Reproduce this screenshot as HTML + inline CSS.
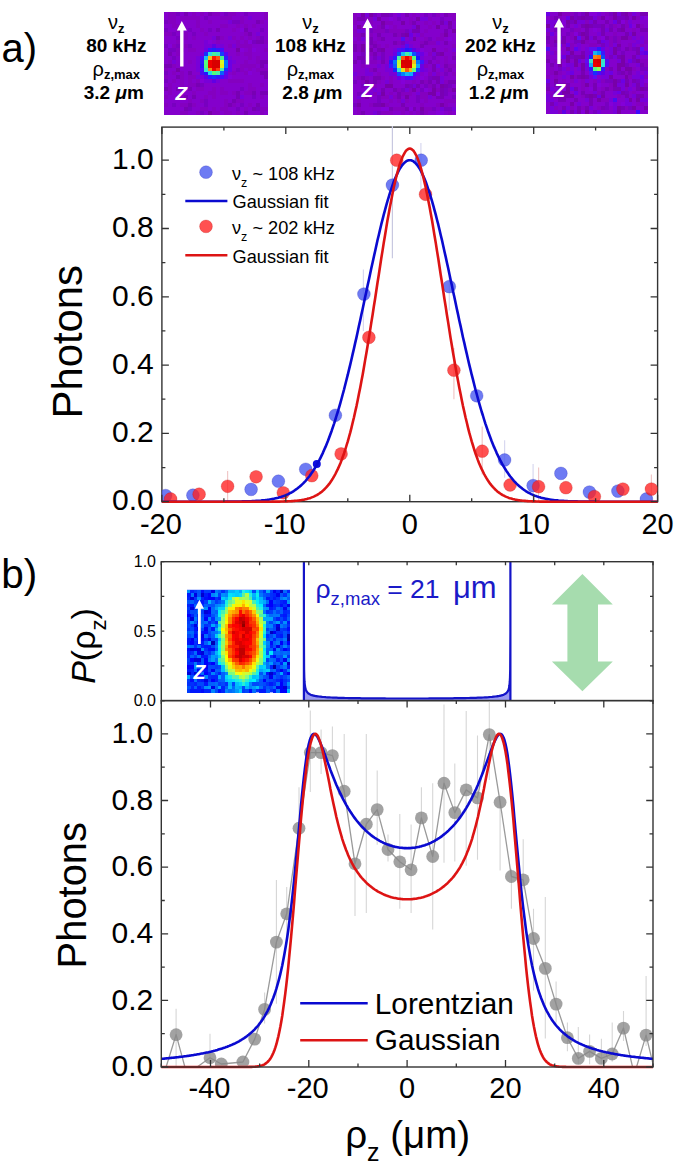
<!DOCTYPE html>
<html><head><meta charset="utf-8"><style>
html,body{margin:0;padding:0;background:#fff;width:675px;height:1163px;overflow:hidden}
svg{display:block}
text{font-family:"Liberation Sans", sans-serif}
</style></head><body>
<svg width="675" height="1163" viewBox="0 0 675 1163">
<defs><clipPath id="clipA"><rect x="161.9" y="127.1" width="495.7" height="374.6"/></clipPath><clipPath id="clipB"><rect x="161.3" y="700.6" width="491.7" height="366.4"/></clipPath></defs>
<rect x="164" y="12" width="104" height="103" fill="#8400cc"/>
<path fill="#8400c0" shape-rendering="crispEdges" d="M168 12h8.1v4h-8.1zM192 12h4v4h-4zM200 12h4v4h-4zM212 12h8.1v4h-8.1zM228 12h8.1v4h-8.1zM264 12h4v4h-4zM168 16h8.1v4h-8.1zM180 16h20.1v4h-20.1zM220 16h12.1v4h-12.1zM240 16h4v4h-4zM264 16h4v4h-4zM168 19.9h8.1v4h-8.1zM196 19.9h4v4h-4zM208 19.9h4v4h-4zM240 19.9h4v4h-4zM260 19.9h4v4h-4zM172 23.9h8.1v4h-8.1zM196 23.9h4v4h-4zM220 23.9h8.1v4h-8.1zM236 23.9h4v4h-4zM244 23.9h4v4h-4zM252 23.9h4v4h-4zM176 27.8h8.1v4h-8.1zM200 27.8h4v4h-4zM232 27.8h4v4h-4zM164 31.8h8.1v4h-8.1zM184 31.8h4v4h-4zM204 31.8h4v4h-4zM244 31.8h4v4h-4zM180 35.8h8.1v4h-8.1zM192 35.8h4v4h-4zM220 35.8h4v4h-4zM232 35.8h4v4h-4zM240 35.8h4v4h-4zM248 35.8h4v4h-4zM256 35.8h4v4h-4zM176 39.7h4v4h-4zM216 39.7h4v4h-4zM236 39.7h4v4h-4zM244 39.7h4v4h-4zM264 39.7h4v4h-4zM172 43.7h4v4h-4zM184 43.7h4v4h-4zM228 43.7h4v4h-4zM236 43.7h16.1v4h-16.1zM176 47.7h4v4h-4zM188 47.7h8.1v4h-8.1zM248 47.7h4v4h-4zM264 47.7h4v4h-4zM176 51.6h4v4h-4zM236 51.6h4v4h-4zM244 51.6h8.1v4h-8.1zM180 55.6h4v4h-4zM248 55.6h4v4h-4zM256 55.6h4v4h-4zM168 59.5h4v4h-4zM188 59.5h4v4h-4zM244 59.5h4v4h-4zM256 59.5h4v4h-4zM172 63.5h4v4h-4zM180 63.5h4v4h-4zM240 63.5h16.1v4h-16.1zM164 67.5h4v4h-4zM240 67.5h4v4h-4zM248 67.5h4v4h-4zM256 67.5h12.1v4h-12.1zM172 71.4h4v4h-4zM180 71.4h4v4h-4zM232 71.4h4v4h-4zM244 71.4h4v4h-4zM164 75.4h4v4h-4zM180 75.4h4v4h-4zM188 75.4h8.1v4h-8.1zM172 79.3h4v4h-4zM180 79.3h4v4h-4zM188 79.3h4v4h-4zM196 79.3h4v4h-4zM228 79.3h16.1v4h-16.1zM168 83.3h4v4h-4zM180 83.3h4v4h-4zM188 83.3h8.1v4h-8.1zM248 83.3h4v4h-4zM260 83.3h4v4h-4zM168 87.3h4v4h-4zM196 87.3h8.1v4h-8.1zM212 87.3h4v4h-4zM220 87.3h4v4h-4zM248 87.3h8.1v4h-8.1zM168 91.2h4v4h-4zM192 91.2h4v4h-4zM208 91.2h8.1v4h-8.1zM220 91.2h8.1v4h-8.1zM232 91.2h4v4h-4zM244 91.2h8.1v4h-8.1zM164 95.2h4v4h-4zM180 95.2h4v4h-4zM204 95.2h4v4h-4zM212 95.2h4v4h-4zM260 95.2h4v4h-4zM188 99.2h4v4h-4zM200 99.2h4v4h-4zM224 99.2h4v4h-4zM236 99.2h8.1v4h-8.1zM164 103.1h4v4h-4zM180 103.1h8.1v4h-8.1zM192 103.1h4v4h-4zM224 103.1h4v4h-4zM232 103.1h4v4h-4zM248 103.1h4v4h-4zM200 107.1h8.1v4h-8.1zM212 107.1h4v4h-4zM220 107.1h8.1v4h-8.1zM244 107.1h4v4h-4zM260 107.1h8.1v4h-8.1zM180 111h8.1v4h-8.1zM196 111h4v4h-4zM212 111h8.1v4h-8.1zM224 111h8.1v4h-8.1zM236 111h4v4h-4zM260 111h4v4h-4z"/>
<path fill="#7800c0" shape-rendering="crispEdges" d="M176 12h4v4h-4zM224 12h4v4h-4zM244 12h4v4h-4zM204 16h4v4h-4zM164 19.9h4v4h-4zM232 19.9h8.1v4h-8.1zM164 27.8h4v4h-4zM188 27.8h4v4h-4zM208 27.8h4v4h-4zM260 27.8h4v4h-4zM172 31.8h4v4h-4zM192 31.8h4v4h-4zM176 35.8h4v4h-4zM260 35.8h4v4h-4zM252 39.7h4v4h-4zM164 43.7h4v4h-4zM176 43.7h4v4h-4zM188 43.7h4v4h-4zM168 47.7h8.1v4h-8.1zM172 55.6h4v4h-4zM236 67.5h4v4h-4zM164 71.4h4v4h-4zM164 79.3h4v4h-4zM200 83.3h4v4h-4zM180 87.3h4v4h-4zM240 87.3h4v4h-4zM176 95.2h4v4h-4zM252 95.2h4v4h-4zM204 99.2h4v4h-4zM172 103.1h4v4h-4zM204 103.1h4v4h-4zM240 103.1h4v4h-4zM188 107.1h4v4h-4zM236 107.1h4v4h-4zM256 107.1h4v4h-4zM200 111h4v4h-4z"/>
<path fill="#7800b4" shape-rendering="crispEdges" d="M184 12h4v4h-4zM208 12h4v4h-4zM256 19.9h4v4h-4zM216 27.8h4v4h-4zM244 27.8h4v4h-4zM248 31.8h4v4h-4zM216 35.8h4v4h-4zM256 39.7h8.1v4h-8.1zM180 47.7h4v4h-4zM168 51.6h4v4h-4zM260 59.5h8.1v4h-8.1zM164 63.5h8.1v4h-8.1zM260 63.5h4v4h-4zM188 71.4h4v4h-4zM260 71.4h8.1v4h-8.1zM176 75.4h4v4h-4zM264 75.4h4v4h-4zM196 83.3h4v4h-4zM164 87.3h4v4h-4zM176 87.3h4v4h-4zM188 87.3h4v4h-4zM236 91.2h4v4h-4zM252 91.2h4v4h-4zM260 91.2h8.1v4h-8.1zM184 95.2h4v4h-4zM192 95.2h4v4h-4zM236 95.2h4v4h-4zM232 99.2h4v4h-4zM188 103.1h4v4h-4zM228 103.1h4v4h-4zM256 103.1h4v4h-4zM184 107.1h4v4h-4zM252 107.1h4v4h-4zM244 111h4v4h-4z"/>
<path fill="#7800d8" shape-rendering="crispEdges" d="M248 16h4v4h-4zM228 19.9h4v4h-4zM256 31.8h4v4h-4zM212 35.8h4v4h-4zM228 35.8h4v4h-4zM204 39.7h4v4h-4zM204 43.7h8.1v4h-8.1zM216 43.7h8.1v4h-8.1zM232 43.7h4v4h-4zM200 51.6h4v4h-4zM196 55.6h4v4h-4zM228 55.6h4v4h-4zM172 59.5h4v4h-4zM196 59.5h4v4h-4zM232 59.5h4v4h-4zM196 63.5h4v4h-4zM196 67.5h4v4h-4zM196 75.4h8.1v4h-8.1zM204 79.3h8.1v4h-8.1zM216 79.3h4v4h-4zM240 95.2h4v4h-4z"/>
<path fill="#8400d8" shape-rendering="crispEdges" d="M240 27.8h4v4h-4zM208 39.7h4v4h-4zM248 39.7h4v4h-4zM168 43.7h4v4h-4zM240 47.7h4v4h-4zM252 47.7h4v4h-4zM248 71.4h4v4h-4zM228 75.4h4v4h-4zM200 79.3h4v4h-4z"/>
<path fill="#6000e4" shape-rendering="crispEdges" d="M212 43.7h4v4h-4zM204 75.4h4v4h-4zM212 79.3h4v4h-4z"/>
<path fill="#6c00e4" shape-rendering="crispEdges" d="M204 47.7h4v4h-4zM228 59.5h4v4h-4zM228 63.5h4v4h-4zM228 67.5h4v4h-4zM224 75.4h4v4h-4z"/>
<path fill="#3018fc" shape-rendering="crispEdges" d="M208 47.7h4v4h-4zM216 47.7h4v4h-4zM224 55.6h4v4h-4zM200 59.5h4v4h-4zM208 75.4h4v4h-4zM216 75.4h4v4h-4z"/>
<path fill="#1824fc" shape-rendering="crispEdges" d="M212 47.7h4v4h-4z"/>
<path fill="#480cfc" shape-rendering="crispEdges" d="M220 47.7h4v4h-4zM200 55.6h4v4h-4zM200 67.5h4v4h-4zM220 75.4h4v4h-4z"/>
<path fill="#7800a8" shape-rendering="crispEdges" d="M236 47.7h4v4h-4zM176 67.5h4v4h-4zM208 111h4v4h-4z"/>
<path fill="#1830fc" shape-rendering="crispEdges" d="M204 51.6h4v4h-4zM224 67.5h4v4h-4zM212 75.4h4v4h-4z"/>
<path fill="#30d8e4" shape-rendering="crispEdges" d="M208 51.6h4v4h-4z"/>
<path fill="#48f09c" shape-rendering="crispEdges" d="M212 51.6h4v4h-4z"/>
<path fill="#3ce4c0" shape-rendering="crispEdges" d="M216 51.6h4v4h-4z"/>
<path fill="#183cfc" shape-rendering="crispEdges" d="M220 51.6h4v4h-4z"/>
<path fill="#6000f0" shape-rendering="crispEdges" d="M224 51.6h4v4h-4z"/>
<path fill="#18c0f0" shape-rendering="crispEdges" d="M204 55.6h4v4h-4z"/>
<path fill="#f0c018" shape-rendering="crispEdges" d="M208 55.6h4v4h-4z"/>
<path fill="#fc1800" shape-rendering="crispEdges" d="M212 55.6h4v4h-4z"/>
<path fill="#fc540c" shape-rendering="crispEdges" d="M216 55.6h4v4h-4z"/>
<path fill="#48f090" shape-rendering="crispEdges" d="M220 55.6h4v4h-4z"/>
<path fill="#54fc84" shape-rendering="crispEdges" d="M204 59.5h4v4h-4z"/>
<path fill="#f00000" shape-rendering="crispEdges" d="M208 59.5h4v4h-4zM208 63.5h4v4h-4zM212 67.5h4v4h-4z"/>
<path fill="#d80000" shape-rendering="crispEdges" d="M212 59.5h8.1v4h-8.1zM212 63.5h8.1v4h-8.1z"/>
<path fill="#d8fc24" shape-rendering="crispEdges" d="M220 59.5h4v4h-4z"/>
<path fill="#0078fc" shape-rendering="crispEdges" d="M224 59.5h4v4h-4zM224 63.5h4v4h-4z"/>
<path fill="#2418fc" shape-rendering="crispEdges" d="M200 63.5h4v4h-4zM204 71.4h4v4h-4z"/>
<path fill="#54fc78" shape-rendering="crispEdges" d="M204 63.5h4v4h-4zM212 71.4h4v4h-4z"/>
<path fill="#e4f018" shape-rendering="crispEdges" d="M220 63.5h4v4h-4z"/>
<path fill="#30e4cc" shape-rendering="crispEdges" d="M204 67.5h4v4h-4z"/>
<path fill="#f09018" shape-rendering="crispEdges" d="M208 67.5h4v4h-4z"/>
<path fill="#fc3c0c" shape-rendering="crispEdges" d="M216 67.5h4v4h-4z"/>
<path fill="#48f0a8" shape-rendering="crispEdges" d="M220 67.5h4v4h-4zM216 71.4h4v4h-4z"/>
<path fill="#480cf0" shape-rendering="crispEdges" d="M200 71.4h4v4h-4z"/>
<path fill="#24d8e4" shape-rendering="crispEdges" d="M208 71.4h4v4h-4z"/>
<path fill="#0c60fc" shape-rendering="crispEdges" d="M220 71.4h4v4h-4z"/>
<path fill="#540cf0" shape-rendering="crispEdges" d="M224 71.4h4v4h-4z"/>
<rect x="353" y="13" width="103" height="102" fill="#8400cc"/>
<path fill="#8400c0" shape-rendering="crispEdges" d="M353 13h4v4h-4zM412.4 13h4v4h-4zM436.2 13h4v4h-4zM448.1 13h8v4h-8zM353 16.9h4v4h-4zM364.9 16.9h8v4h-8zM408.5 16.9h4v4h-4zM428.3 16.9h4v4h-4zM452 16.9h4v4h-4zM353 20.8h4v4h-4zM368.8 20.8h4v4h-4zM384.7 20.8h8v4h-8zM408.5 20.8h4v4h-4zM424.3 20.8h4v4h-4zM432.2 20.8h4v4h-4zM360.9 24.8h4v4h-4zM376.8 24.8h4v4h-4zM392.6 24.8h4v4h-4zM428.3 24.8h4v4h-4zM353 28.7h4v4h-4zM372.8 28.7h11.9v4h-11.9zM388.7 28.7h15.9v4h-15.9zM424.3 28.7h4v4h-4zM353 32.6h8v4h-8zM368.8 32.6h4v4h-4zM396.6 32.6h4v4h-4zM420.3 32.6h4v4h-4zM440.2 32.6h4v4h-4zM357 36.5h4v4h-4zM364.9 36.5h4v4h-4zM376.8 36.5h4v4h-4zM424.3 36.5h4v4h-4zM436.2 36.5h8v4h-8zM353 40.5h4v4h-4zM372.8 40.5h4v4h-4zM396.6 40.5h4v4h-4zM420.3 40.5h4v4h-4zM428.3 40.5h8v4h-8zM357 44.4h4v4h-4zM368.8 44.4h4v4h-4zM376.8 44.4h4v4h-4zM384.7 44.4h4v4h-4zM452 44.4h4v4h-4zM357 48.3h4v4h-4zM444.1 48.3h4v4h-4zM368.8 52.2h4v4h-4zM428.3 52.2h4v4h-4zM452 52.2h4v4h-4zM444.1 56.2h4v4h-4zM368.8 60.1h8v4h-8zM436.2 60.1h4v4h-4zM444.1 60.1h4v4h-4zM360.9 64h4v4h-4zM424.3 64h4v4h-4zM448.1 64h8v4h-8zM368.8 67.9h4v4h-4zM444.1 67.9h4v4h-4zM376.8 71.8h4v4h-4zM428.3 71.8h4v4h-4zM436.2 71.8h4v4h-4zM452 71.8h4v4h-4zM357 75.8h4v4h-4zM364.9 75.8h4v4h-4zM380.7 75.8h4v4h-4zM388.7 75.8h4v4h-4zM360.9 79.7h4v4h-4zM368.8 79.7h4v4h-4zM376.8 79.7h4v4h-4zM388.7 79.7h4v4h-4zM412.4 79.7h4v4h-4zM424.3 79.7h4v4h-4zM444.1 79.7h4v4h-4zM368.8 83.6h8v4h-8zM428.3 83.6h4v4h-4zM396.6 87.5h4v4h-4zM408.5 87.5h4v4h-4zM436.2 87.5h4v4h-4zM448.1 87.5h4v4h-4zM372.8 91.5h4v4h-4zM388.7 91.5h4v4h-4zM400.5 91.5h11.9v4h-11.9zM420.3 91.5h8v4h-8zM360.9 95.4h4v4h-4zM380.7 95.4h8v4h-8zM392.6 95.4h4v4h-4zM420.3 95.4h8v4h-8zM357 99.3h4v4h-4zM388.7 99.3h4v4h-4zM396.6 99.3h4v4h-4zM404.5 99.3h4v4h-4zM424.3 99.3h4v4h-4zM444.1 99.3h11.9v4h-11.9zM368.8 103.2h4v4h-4zM384.7 103.2h4v4h-4zM420.3 103.2h4v4h-4zM436.2 103.2h4v4h-4zM444.1 103.2h4v4h-4zM357 107.2h4v4h-4zM392.6 107.2h11.9v4h-11.9zM424.3 107.2h8v4h-8zM357 111.1h4v4h-4zM380.7 111.1h11.9v4h-11.9zM400.5 111.1h4v4h-4zM408.5 111.1h4v4h-4zM416.4 111.1h4v4h-4zM424.3 111.1h4v4h-4zM448.1 111.1h4v4h-4z"/>
<path fill="#7800a8" shape-rendering="crispEdges" d="M360.9 13h4v4h-4zM368.8 13h4v4h-4zM376.8 16.9h4v4h-4zM416.4 16.9h4v4h-4zM380.7 20.8h4v4h-4zM400.5 20.8h4v4h-4zM448.1 20.8h4v4h-4zM357 24.8h4v4h-4zM416.4 24.8h4v4h-4zM436.2 24.8h4v4h-4zM452 28.7h4v4h-4zM404.5 32.6h4v4h-4zM444.1 32.6h4v4h-4zM412.4 36.5h4v4h-4zM360.9 44.4h4v4h-4zM360.9 48.3h4v4h-4zM368.8 48.3h4v4h-4zM380.7 48.3h4v4h-4zM432.2 48.3h4v4h-4zM440.2 52.2h4v4h-4zM364.9 79.7h4v4h-4zM384.7 83.6h8v4h-8zM440.2 83.6h4v4h-4zM412.4 87.5h4v4h-4zM432.2 87.5h4v4h-4zM452 87.5h4v4h-4zM380.7 91.5h4v4h-4zM428.3 91.5h8v4h-8zM364.9 95.4h4v4h-4zM404.5 95.4h4v4h-4zM357 103.2h4v4h-4zM380.7 103.2h4v4h-4zM440.2 103.2h4v4h-4zM420.3 107.2h4v4h-4z"/>
<path fill="#7800d8" shape-rendering="crispEdges" d="M364.9 13h4v4h-4zM396.6 13h4v4h-4zM372.8 16.9h4v4h-4zM420.3 16.9h8v4h-8zM444.1 20.8h4v4h-4zM412.4 24.8h4v4h-4zM357 28.7h8v4h-8zM408.5 28.7h4v4h-4zM416.4 32.6h4v4h-4zM360.9 36.5h4v4h-4zM408.5 36.5h4v4h-4zM404.5 40.5h4v4h-4zM436.2 40.5h4v4h-4zM400.5 44.4h4v4h-4zM408.5 44.4h4v4h-4zM364.9 48.3h4v4h-4zM392.6 48.3h4v4h-4zM416.4 48.3h4v4h-4zM452 48.3h4v4h-4zM432.2 52.2h4v4h-4zM376.8 56.2h4v4h-4zM420.3 56.2h4v4h-4zM424.3 60.1h4v4h-4zM376.8 64h4v4h-4zM384.7 64h4v4h-4zM364.9 67.9h4v4h-4zM384.7 67.9h8v4h-8zM424.3 67.9h4v4h-4zM440.2 67.9h4v4h-4zM353 71.8h4v4h-4zM364.9 71.8h8v4h-8zM388.7 71.8h8v4h-8zM432.2 71.8h4v4h-4zM416.4 75.8h4v4h-4zM440.2 75.8h4v4h-4zM384.7 79.7h4v4h-4zM440.2 79.7h4v4h-4zM412.4 83.6h4v4h-4zM372.8 87.5h4v4h-4zM404.5 87.5h4v4h-4zM368.8 91.5h4v4h-4zM376.8 91.5h4v4h-4zM416.4 91.5h4v4h-4zM357 95.4h4v4h-4zM388.7 95.4h4v4h-4zM428.3 95.4h4v4h-4zM400.5 99.3h4v4h-4zM440.2 107.2h4v4h-4zM452 107.2h4v4h-4zM372.8 111.1h4v4h-4z"/>
<path fill="#7800c0" shape-rendering="crispEdges" d="M372.8 13h4v4h-4zM388.7 13h4v4h-4zM424.3 13h4v4h-4zM432.2 13h4v4h-4zM396.6 16.9h4v4h-4zM440.2 16.9h4v4h-4zM368.8 28.7h4v4h-4zM384.7 28.7h4v4h-4zM404.5 28.7h4v4h-4zM428.3 36.5h4v4h-4zM400.5 40.5h4v4h-4zM360.9 52.2h8v4h-8zM380.7 52.2h4v4h-4zM372.8 56.2h4v4h-4zM380.7 56.2h4v4h-4zM432.2 56.2h4v4h-4zM360.9 60.1h4v4h-4zM444.1 71.8h4v4h-4zM428.3 75.8h4v4h-4zM353 79.7h4v4h-4zM360.9 83.6h4v4h-4zM408.5 83.6h4v4h-4zM424.3 83.6h4v4h-4zM448.1 83.6h4v4h-4zM400.5 87.5h4v4h-4zM420.3 87.5h4v4h-4zM444.1 87.5h4v4h-4zM357 91.5h8v4h-8zM444.1 91.5h4v4h-4zM376.8 95.4h4v4h-4zM416.4 95.4h4v4h-4zM452 95.4h4v4h-4zM376.8 99.3h4v4h-4zM416.4 99.3h4v4h-4zM353 103.2h4v4h-4zM432.2 107.2h4v4h-4zM444.1 107.2h8v4h-8zM376.8 111.1h4v4h-4z"/>
<path fill="#7800b4" shape-rendering="crispEdges" d="M380.7 13h8v4h-8zM404.5 13h4v4h-4zM444.1 13h4v4h-4zM357 16.9h8v4h-8zM412.4 20.8h4v4h-4zM440.2 20.8h4v4h-4zM380.7 24.8h4v4h-4zM448.1 24.8h4v4h-4zM412.4 28.7h8v4h-8zM444.1 28.7h4v4h-4zM360.9 32.6h4v4h-4zM376.8 32.6h4v4h-4zM392.6 32.6h4v4h-4zM400.5 32.6h4v4h-4zM368.8 36.5h4v4h-4zM380.7 36.5h4v4h-4zM368.8 40.5h4v4h-4zM392.6 40.5h4v4h-4zM424.3 40.5h4v4h-4zM444.1 40.5h4v4h-4zM353 44.4h4v4h-4zM372.8 44.4h4v4h-4zM420.3 44.4h4v4h-4zM353 48.3h4v4h-4zM376.8 48.3h4v4h-4zM372.8 52.2h4v4h-4zM436.2 52.2h4v4h-4zM357 56.2h8v4h-8zM452 56.2h4v4h-4zM353 60.1h4v4h-4zM364.9 60.1h4v4h-4zM380.7 60.1h4v4h-4zM428.3 60.1h4v4h-4zM432.2 64h4v4h-4zM444.1 64h4v4h-4zM372.8 67.9h4v4h-4zM432.2 67.9h4v4h-4zM448.1 67.9h4v4h-4zM360.9 75.8h4v4h-4zM372.8 75.8h8v4h-8zM432.2 75.8h8v4h-8zM372.8 79.7h4v4h-4zM420.3 79.7h4v4h-4zM428.3 79.7h4v4h-4zM436.2 79.7h4v4h-4zM448.1 79.7h8v4h-8zM404.5 83.6h4v4h-4zM416.4 83.6h4v4h-4zM432.2 83.6h4v4h-4zM444.1 83.6h4v4h-4zM380.7 87.5h4v4h-4zM392.6 87.5h4v4h-4zM440.2 87.5h4v4h-4zM396.6 91.5h4v4h-4zM440.2 91.5h4v4h-4zM396.6 95.4h4v4h-4zM436.2 95.4h8v4h-8zM372.8 103.2h8v4h-8zM400.5 103.2h4v4h-4zM388.7 107.2h4v4h-4zM404.5 107.2h4v4h-4zM412.4 107.2h4v4h-4zM360.9 111.1h4v4h-4zM420.3 111.1h4v4h-4z"/>
<path fill="#8400d8" shape-rendering="crispEdges" d="M388.7 16.9h4v4h-4zM364.9 20.8h4v4h-4zM384.7 24.8h4v4h-4zM448.1 36.5h4v4h-4zM420.3 48.3h4v4h-4zM424.3 52.2h4v4h-4zM424.3 71.8h4v4h-4zM420.3 75.8h4v4h-4zM400.5 79.7h4v4h-4zM424.3 87.5h4v4h-4zM436.2 91.5h4v4h-4zM380.7 107.2h8v4h-8zM408.5 107.2h4v4h-4zM436.2 111.1h8v4h-8z"/>
<path fill="#6c00e4" shape-rendering="crispEdges" d="M408.5 32.6h4v4h-4zM392.6 52.2h4v4h-4zM420.3 52.2h4v4h-4zM388.7 56.2h4v4h-4zM420.3 64h4v4h-4zM420.3 67.9h4v4h-4zM416.4 71.8h4v4h-4zM396.6 75.8h4v4h-4zM412.4 75.8h4v4h-4z"/>
<path fill="#540cf0" shape-rendering="crispEdges" d="M400.5 36.5h4v4h-4zM404.5 44.4h4v4h-4zM396.6 48.3h4v4h-4z"/>
<path fill="#480cfc" shape-rendering="crispEdges" d="M400.5 48.3h4v4h-4zM412.4 71.8h4v4h-4zM404.5 75.8h8v4h-8z"/>
<path fill="#2418fc" shape-rendering="crispEdges" d="M404.5 48.3h4v4h-4zM388.7 60.1h4v4h-4z"/>
<path fill="#3018fc" shape-rendering="crispEdges" d="M408.5 48.3h4v4h-4zM392.6 56.2h4v4h-4z"/>
<path fill="#6000e4" shape-rendering="crispEdges" d="M412.4 48.3h4v4h-4z"/>
<path fill="#183cfc" shape-rendering="crispEdges" d="M396.6 52.2h4v4h-4zM416.4 67.9h4v4h-4z"/>
<path fill="#18c0f0" shape-rendering="crispEdges" d="M400.5 52.2h4v4h-4z"/>
<path fill="#48f0a8" shape-rendering="crispEdges" d="M404.5 52.2h4v4h-4zM396.6 56.2h4v4h-4z"/>
<path fill="#24d8f0" shape-rendering="crispEdges" d="M408.5 52.2h4v4h-4z"/>
<path fill="#0c54fc" shape-rendering="crispEdges" d="M412.4 52.2h4v4h-4z"/>
<path fill="#3c18fc" shape-rendering="crispEdges" d="M416.4 52.2h4v4h-4zM420.3 60.1h4v4h-4zM388.7 64h4v4h-4z"/>
<path fill="#fc540c" shape-rendering="crispEdges" d="M400.5 56.2h4v4h-4zM404.5 67.9h4v4h-4z"/>
<path fill="#f00000" shape-rendering="crispEdges" d="M404.5 56.2h4v4h-4z"/>
<path fill="#fc300c" shape-rendering="crispEdges" d="M408.5 56.2h4v4h-4z"/>
<path fill="#54fc78" shape-rendering="crispEdges" d="M412.4 56.2h4v4h-4z"/>
<path fill="#1818fc" shape-rendering="crispEdges" d="M416.4 56.2h4v4h-4z"/>
<path fill="#0078fc" shape-rendering="crispEdges" d="M392.6 60.1h4v4h-4zM416.4 60.1h4v4h-4z"/>
<path fill="#c0fc30" shape-rendering="crispEdges" d="M396.6 60.1h4v4h-4z"/>
<path fill="#d80000" shape-rendering="crispEdges" d="M400.5 60.1h11.9v4h-11.9zM404.5 64h8v4h-8z"/>
<path fill="#f0c018" shape-rendering="crispEdges" d="M412.4 60.1h4v4h-4z"/>
<path fill="#0c60fc" shape-rendering="crispEdges" d="M392.6 64h4v4h-4z"/>
<path fill="#ccfc30" shape-rendering="crispEdges" d="M396.6 64h4v4h-4z"/>
<path fill="#e40000" shape-rendering="crispEdges" d="M400.5 64h4v4h-4z"/>
<path fill="#e4f018" shape-rendering="crispEdges" d="M412.4 64h4v4h-4z"/>
<path fill="#0ca8f0" shape-rendering="crispEdges" d="M416.4 64h4v4h-4z"/>
<path fill="#7800e4" shape-rendering="crispEdges" d="M436.2 64h4v4h-4z"/>
<path fill="#1824fc" shape-rendering="crispEdges" d="M392.6 67.9h4v4h-4z"/>
<path fill="#30e4d8" shape-rendering="crispEdges" d="M396.6 67.9h4v4h-4z"/>
<path fill="#e4e418" shape-rendering="crispEdges" d="M400.5 67.9h4v4h-4z"/>
<path fill="#f0b418" shape-rendering="crispEdges" d="M408.5 67.9h4v4h-4z"/>
<path fill="#60fc78" shape-rendering="crispEdges" d="M412.4 67.9h4v4h-4z"/>
<path fill="#1848fc" shape-rendering="crispEdges" d="M396.6 71.8h4v4h-4z"/>
<path fill="#0084fc" shape-rendering="crispEdges" d="M400.5 71.8h4v4h-4z"/>
<path fill="#18b4f0" shape-rendering="crispEdges" d="M404.5 71.8h4v4h-4z"/>
<path fill="#0ca8fc" shape-rendering="crispEdges" d="M408.5 71.8h4v4h-4z"/>
<path fill="#600cf0" shape-rendering="crispEdges" d="M400.5 75.8h4v4h-4z"/>
<rect x="546" y="12" width="102" height="102" fill="#8400cc"/>
<path fill="#6c00e4" shape-rendering="crispEdges" d="M546 12h4v4h-4zM565.6 15.9h4v4h-4zM612.7 19.8h4v4h-4zM628.4 23.8h4v4h-4zM549.9 31.6h4v4h-4zM600.9 39.5h4v4h-4zM557.8 43.4h4v4h-4zM565.6 43.4h4v4h-4zM600.9 47.3h4v4h-4zM589.2 51.2h4v4h-4zM640.2 51.2h4v4h-4zM561.7 55.2h4v4h-4zM577.4 59.1h4v4h-4zM628.4 59.1h4v4h-4zM585.2 63h4v4h-4zM569.5 70.8h4v4h-4zM608.8 70.8h4v4h-4zM640.2 74.8h4v4h-4zM546 78.7h4v4h-4zM620.5 78.7h4v4h-4zM569.5 86.5h4v4h-4zM573.5 90.5h4v4h-4zM616.6 90.5h4v4h-4zM597 94.4h4v4h-4z"/>
<path fill="#7800a8" shape-rendering="crispEdges" d="M557.8 12h4v4h-4zM585.2 12h4v4h-4zM612.7 12h4v4h-4zM624.5 12h4v4h-4zM569.5 15.9h4v4h-4zM581.3 15.9h4v4h-4zM600.9 15.9h4v4h-4zM612.7 15.9h4v4h-4zM632.3 15.9h4v4h-4zM565.6 19.8h4v4h-4zM573.5 19.8h4v4h-4zM546 23.8h4v4h-4zM553.8 23.8h4v4h-4zM585.2 23.8h4v4h-4zM636.2 23.8h4v4h-4zM620.5 27.7h4v4h-4zM581.3 31.6h4v4h-4zM632.3 31.6h4v4h-4zM573.5 35.5h4v4h-4zM585.2 35.5h4v4h-4zM620.5 35.5h7.9v4h-7.9zM553.8 39.5h4v4h-4zM581.3 39.5h4v4h-4zM616.6 43.4h4v4h-4zM565.6 47.3h4v4h-4zM612.7 47.3h4v4h-4zM569.5 51.2h4v4h-4zM612.7 51.2h4v4h-4zM565.6 55.2h4v4h-4zM581.3 55.2h4v4h-4zM620.5 55.2h4v4h-4zM557.8 59.1h4v4h-4zM565.6 59.1h4v4h-4zM573.5 59.1h4v4h-4zM620.5 59.1h4v4h-4zM636.2 59.1h4v4h-4zM557.8 63h4v4h-4zM573.5 63h4v4h-4zM581.3 63h4v4h-4zM616.6 63h7.9v4h-7.9zM581.3 66.9h4v4h-4zM616.6 66.9h4v4h-4zM624.5 66.9h7.9v4h-7.9zM553.8 70.8h4v4h-4zM569.5 74.8h4v4h-4zM581.3 74.8h4v4h-4zM608.8 74.8h4v4h-4zM624.5 74.8h4v4h-4zM553.8 78.7h4v4h-4zM612.7 78.7h4v4h-4zM585.2 82.6h4v4h-4zM612.7 82.6h4v4h-4zM624.5 82.6h4v4h-4zM565.6 86.5h4v4h-4zM640.2 86.5h4v4h-4zM561.7 90.5h7.9v4h-7.9zM557.8 94.4h4v4h-4zM569.5 94.4h4v4h-4zM589.2 94.4h4v4h-4zM600.9 94.4h4v4h-4zM597 98.3h4v4h-4zM628.4 98.3h4v4h-4zM636.2 98.3h4v4h-4zM569.5 102.2h4v4h-4zM616.6 106.2h4v4h-4zM632.3 106.2h4v4h-4zM644.1 106.2h4v4h-4zM585.2 110.1h4v4h-4zM616.6 110.1h4v4h-4z"/>
<path fill="#8400c0" shape-rendering="crispEdges" d="M561.7 12h11.8v4h-11.8zM604.8 12h4v4h-4zM628.4 12h4v4h-4zM549.9 15.9h4v4h-4zM557.8 15.9h4v4h-4zM597 15.9h4v4h-4zM608.8 15.9h4v4h-4zM636.2 15.9h4v4h-4zM585.2 19.8h4v4h-4zM624.5 19.8h4v4h-4zM612.7 23.8h4v4h-4zM624.5 23.8h4v4h-4zM640.2 23.8h4v4h-4zM573.5 27.7h7.9v4h-7.9zM632.3 27.7h4v4h-4zM546 31.6h4v4h-4zM569.5 31.6h4v4h-4zM612.7 31.6h4v4h-4zM553.8 35.5h4v4h-4zM569.5 35.5h4v4h-4zM581.3 35.5h4v4h-4zM608.8 35.5h4v4h-4zM616.6 35.5h4v4h-4zM628.4 35.5h4v4h-4zM549.9 39.5h4v4h-4zM585.2 39.5h4v4h-4zM608.8 39.5h4v4h-4zM616.6 39.5h4v4h-4zM644.1 39.5h4v4h-4zM549.9 43.4h4v4h-4zM561.7 43.4h4v4h-4zM569.5 43.4h4v4h-4zM589.2 43.4h7.9v4h-7.9zM608.8 43.4h4v4h-4zM628.4 43.4h4v4h-4zM640.2 43.4h4v4h-4zM557.8 47.3h4v4h-4zM569.5 47.3h4v4h-4zM628.4 47.3h4v4h-4zM553.8 51.2h4v4h-4zM546 55.2h4v4h-4zM553.8 59.1h4v4h-4zM640.2 59.1h7.9v4h-7.9zM644.1 63h4v4h-4zM549.9 66.9h4v4h-4zM565.6 66.9h4v4h-4zM604.8 66.9h4v4h-4zM632.3 66.9h4v4h-4zM549.9 70.8h4v4h-4zM557.8 70.8h4v4h-4zM624.5 70.8h4v4h-4zM546 74.8h4v4h-4zM553.8 74.8h4v4h-4zM573.5 74.8h4v4h-4zM628.4 74.8h4v4h-4zM644.1 74.8h4v4h-4zM561.7 78.7h4v4h-4zM569.5 78.7h4v4h-4zM581.3 78.7h4v4h-4zM593.1 78.7h4v4h-4zM600.9 78.7h4v4h-4zM581.3 82.6h4v4h-4zM608.8 82.6h4v4h-4zM644.1 82.6h4v4h-4zM581.3 86.5h4v4h-4zM600.9 86.5h4v4h-4zM608.8 86.5h4v4h-4zM624.5 86.5h4v4h-4zM597 90.5h4v4h-4zM632.3 90.5h4v4h-4zM549.9 94.4h4v4h-4zM581.3 94.4h4v4h-4zM616.6 94.4h4v4h-4zM600.9 98.3h7.9v4h-7.9zM636.2 102.2h7.9v4h-7.9zM553.8 106.2h4v4h-4zM569.5 106.2h4v4h-4zM581.3 106.2h4v4h-4zM597 106.2h4v4h-4zM624.5 106.2h4v4h-4zM557.8 110.1h4v4h-4z"/>
<path fill="#7800c0" shape-rendering="crispEdges" d="M573.5 12h4v4h-4zM581.3 12h4v4h-4zM608.8 12h4v4h-4zM573.5 15.9h4v4h-4zM616.6 15.9h7.9v4h-7.9zM569.5 19.8h4v4h-4zM593.1 23.8h7.9v4h-7.9zM608.8 23.8h4v4h-4zM553.8 27.7h4v4h-4zM569.5 27.7h4v4h-4zM557.8 31.6h4v4h-4zM565.6 31.6h4v4h-4zM577.4 31.6h4v4h-4zM612.7 35.5h4v4h-4zM546 39.5h4v4h-4zM573.5 39.5h7.9v4h-7.9zM612.7 39.5h4v4h-4zM553.8 43.4h4v4h-4zM600.9 43.4h4v4h-4zM616.6 47.3h4v4h-4zM632.3 47.3h4v4h-4zM620.5 51.2h4v4h-4zM569.5 55.2h4v4h-4zM608.8 55.2h4v4h-4zM632.3 59.1h4v4h-4zM624.5 63h4v4h-4zM557.8 66.9h4v4h-4zM640.2 66.9h7.9v4h-7.9zM616.6 70.8h4v4h-4zM604.8 78.7h7.9v4h-7.9zM616.6 78.7h4v4h-4zM636.2 78.7h4v4h-4zM546 82.6h4v4h-4zM624.5 90.5h4v4h-4zM604.8 102.2h4v4h-4zM604.8 106.2h4v4h-4zM628.4 106.2h4v4h-4zM593.1 110.1h4v4h-4z"/>
<path fill="#8400d8" shape-rendering="crispEdges" d="M589.2 12h7.9v4h-7.9zM644.1 15.9h4v4h-4zM561.7 19.8h4v4h-4zM620.5 19.8h4v4h-4zM632.3 23.8h4v4h-4zM593.1 27.7h4v4h-4zM573.5 31.6h4v4h-4zM600.9 35.5h4v4h-4zM557.8 51.2h4v4h-4zM561.7 63h4v4h-4zM644.1 78.7h4v4h-4zM597 82.6h4v4h-4zM561.7 86.5h4v4h-4zM589.2 86.5h4v4h-4zM608.8 102.2h4v4h-4zM620.5 102.2h4v4h-4zM581.3 110.1h4v4h-4z"/>
<path fill="#7800d8" shape-rendering="crispEdges" d="M597 12h4v4h-4zM616.6 12h4v4h-4zM632.3 12h4v4h-4zM593.1 15.9h4v4h-4zM640.2 15.9h4v4h-4zM546 19.8h11.8v4h-11.8zM577.4 19.8h7.9v4h-7.9zM589.2 19.8h4v4h-4zM628.4 19.8h4v4h-4zM549.9 23.8h4v4h-4zM573.5 23.8h4v4h-4zM546 27.7h4v4h-4zM604.8 27.7h4v4h-4zM597 31.6h4v4h-4zM628.4 31.6h4v4h-4zM557.8 35.5h4v4h-4zM589.2 35.5h4v4h-4zM632.3 35.5h4v4h-4zM640.2 35.5h4v4h-4zM604.8 39.5h4v4h-4zM636.2 39.5h7.9v4h-7.9zM577.4 43.4h4v4h-4zM604.8 43.4h4v4h-4zM612.7 43.4h4v4h-4zM632.3 43.4h4v4h-4zM577.4 47.3h4v4h-4zM585.2 47.3h4v4h-4zM608.8 47.3h4v4h-4zM549.9 51.2h4v4h-4zM565.6 51.2h4v4h-4zM585.2 51.2h4v4h-4zM608.8 51.2h4v4h-4zM557.8 55.2h4v4h-4zM585.2 55.2h4v4h-4zM612.7 55.2h4v4h-4zM636.2 55.2h4v4h-4zM616.6 59.1h4v4h-4zM565.6 63h7.9v4h-7.9zM636.2 63h4v4h-4zM561.7 66.9h4v4h-4zM569.5 66.9h4v4h-4zM577.4 66.9h4v4h-4zM585.2 66.9h4v4h-4zM565.6 70.8h4v4h-4zM604.8 70.8h4v4h-4zM636.2 70.8h4v4h-4zM644.1 70.8h4v4h-4zM561.7 74.8h4v4h-4zM589.2 74.8h4v4h-4zM600.9 74.8h7.9v4h-7.9zM632.3 74.8h7.9v4h-7.9zM573.5 78.7h4v4h-4zM585.2 78.7h4v4h-4zM597 78.7h4v4h-4zM640.2 78.7h4v4h-4zM616.6 82.6h7.9v4h-7.9zM632.3 82.6h4v4h-4zM640.2 82.6h4v4h-4zM549.9 86.5h4v4h-4zM620.5 86.5h4v4h-4zM628.4 86.5h4v4h-4zM557.8 90.5h4v4h-4zM593.1 90.5h4v4h-4zM612.7 90.5h4v4h-4zM546 94.4h4v4h-4zM632.3 94.4h4v4h-4zM546 98.3h7.9v4h-7.9zM585.2 98.3h4v4h-4zM608.8 98.3h4v4h-4zM624.5 98.3h4v4h-4zM640.2 98.3h7.9v4h-7.9zM553.8 102.2h4v4h-4zM577.4 102.2h4v4h-4zM612.7 102.2h4v4h-4zM624.5 102.2h7.9v4h-7.9zM549.9 106.2h4v4h-4zM565.6 106.2h4v4h-4zM589.2 106.2h4v4h-4zM612.7 106.2h4v4h-4zM549.9 110.1h7.9v4h-7.9zM573.5 110.1h4v4h-4zM597 110.1h4v4h-4zM612.7 110.1h4v4h-4z"/>
<path fill="#7800b4" shape-rendering="crispEdges" d="M620.5 12h4v4h-4zM640.2 12h7.9v4h-7.9zM553.8 15.9h4v4h-4zM577.4 15.9h4v4h-4zM585.2 15.9h7.9v4h-7.9zM624.5 15.9h4v4h-4zM557.8 19.8h4v4h-4zM593.1 19.8h4v4h-4zM604.8 19.8h4v4h-4zM616.6 19.8h4v4h-4zM565.6 23.8h4v4h-4zM581.3 23.8h4v4h-4zM589.2 23.8h4v4h-4zM600.9 23.8h4v4h-4zM620.5 23.8h4v4h-4zM557.8 27.7h4v4h-4zM585.2 27.7h4v4h-4zM600.9 27.7h4v4h-4zM608.8 27.7h4v4h-4zM616.6 27.7h4v4h-4zM640.2 27.7h7.9v4h-7.9zM585.2 31.6h4v4h-4zM600.9 31.6h4v4h-4zM624.5 31.6h4v4h-4zM546 35.5h4v4h-4zM561.7 35.5h4v4h-4zM593.1 35.5h4v4h-4zM604.8 35.5h4v4h-4zM557.8 39.5h7.9v4h-7.9zM597 39.5h4v4h-4zM624.5 47.3h4v4h-4zM636.2 47.3h4v4h-4zM581.3 51.2h4v4h-4zM636.2 51.2h4v4h-4zM573.5 55.2h7.9v4h-7.9zM616.6 55.2h4v4h-4zM632.3 55.2h4v4h-4zM546 59.1h4v4h-4zM549.9 63h4v4h-4zM640.2 63h4v4h-4zM608.8 66.9h4v4h-4zM581.3 70.8h4v4h-4zM620.5 70.8h4v4h-4zM628.4 70.8h4v4h-4zM577.4 74.8h4v4h-4zM585.2 74.8h4v4h-4zM624.5 78.7h4v4h-4zM632.3 78.7h4v4h-4zM553.8 82.6h15.7v4h-15.7zM593.1 82.6h4v4h-4zM636.2 82.6h4v4h-4zM546 86.5h4v4h-4zM557.8 86.5h4v4h-4zM573.5 86.5h4v4h-4zM593.1 86.5h4v4h-4zM604.8 86.5h4v4h-4zM612.7 86.5h7.9v4h-7.9zM636.2 86.5h4v4h-4zM644.1 86.5h4v4h-4zM553.8 90.5h4v4h-4zM581.3 90.5h4v4h-4zM600.9 90.5h4v4h-4zM620.5 90.5h4v4h-4zM553.8 94.4h4v4h-4zM561.7 94.4h7.9v4h-7.9zM585.2 94.4h4v4h-4zM593.1 94.4h4v4h-4zM624.5 94.4h4v4h-4zM636.2 94.4h7.9v4h-7.9zM557.8 98.3h7.9v4h-7.9zM573.5 98.3h4v4h-4zM589.2 98.3h4v4h-4zM549.9 102.2h4v4h-4zM589.2 102.2h4v4h-4zM561.7 106.2h4v4h-4zM577.4 106.2h4v4h-4zM585.2 106.2h4v4h-4zM600.9 106.2h4v4h-4zM620.5 106.2h4v4h-4zM569.5 110.1h4v4h-4zM577.4 110.1h4v4h-4z"/>
<path fill="#600cf0" shape-rendering="crispEdges" d="M577.4 35.5h4v4h-4zM589.2 47.3h7.9v4h-7.9zM640.2 47.3h4v4h-4zM585.2 59.1h4v4h-4zM589.2 70.8h4v4h-4zM593.1 74.8h4v4h-4z"/>
<path fill="#540cf0" shape-rendering="crispEdges" d="M546 47.3h4v4h-4zM604.8 59.1h4v4h-4zM604.8 63h4v4h-4z"/>
<path fill="#6000f0" shape-rendering="crispEdges" d="M573.5 47.3h4v4h-4z"/>
<path fill="#3018fc" shape-rendering="crispEdges" d="M597 47.3h4v4h-4zM589.2 66.9h4v4h-4zM600.9 66.9h4v4h-4z"/>
<path fill="#18b4f0" shape-rendering="crispEdges" d="M593.1 51.2h4v4h-4z"/>
<path fill="#0090fc" shape-rendering="crispEdges" d="M597 51.2h4v4h-4z"/>
<path fill="#3c18fc" shape-rendering="crispEdges" d="M600.9 51.2h4v4h-4z"/>
<path fill="#6000e4" shape-rendering="crispEdges" d="M644.1 51.2h4v4h-4zM600.9 70.8h4v4h-4zM561.7 110.1h4v4h-4z"/>
<path fill="#1824fc" shape-rendering="crispEdges" d="M589.2 55.2h4v4h-4z"/>
<path fill="#f08418" shape-rendering="crispEdges" d="M593.1 55.2h4v4h-4z"/>
<path fill="#fc6c0c" shape-rendering="crispEdges" d="M597 55.2h4v4h-4z"/>
<path fill="#0c48fc" shape-rendering="crispEdges" d="M600.9 55.2h4v4h-4z"/>
<path fill="#3ce4c0" shape-rendering="crispEdges" d="M589.2 59.1h4v4h-4zM600.9 59.1h4v4h-4z"/>
<path fill="#e40000" shape-rendering="crispEdges" d="M593.1 59.1h4v4h-4zM597 63h4v4h-4z"/>
<path fill="#d80000" shape-rendering="crispEdges" d="M597 59.1h4v4h-4z"/>
<path fill="#18a8f0" shape-rendering="crispEdges" d="M589.2 63h4v4h-4z"/>
<path fill="#f00000" shape-rendering="crispEdges" d="M593.1 63h4v4h-4z"/>
<path fill="#30e4d8" shape-rendering="crispEdges" d="M600.9 63h4v4h-4z"/>
<path fill="#54fc84" shape-rendering="crispEdges" d="M593.1 66.9h4v4h-4z"/>
<path fill="#90fc54" shape-rendering="crispEdges" d="M597 66.9h4v4h-4z"/>
<path fill="#1830fc" shape-rendering="crispEdges" d="M593.1 70.8h4v4h-4z"/>
<path fill="#480cfc" shape-rendering="crispEdges" d="M597 70.8h4v4h-4z"/>
<path fill="#480cf0" shape-rendering="crispEdges" d="M612.7 98.3h4v4h-4z"/>
<path fill="#3c0cfc" shape-rendering="crispEdges" d="M636.2 110.1h4v4h-4z"/>
<path fill="#fff" d="M181.8 21L186.8 30.5L183.5 30.5L183.5 66.5L180.1 66.5L180.1 30.5L176.8 30.5z"/>
<text x="175.5" y="99.8" font-family='"Liberation Sans", sans-serif' font-weight="bold" font-style="italic" font-size="19" fill="#fff">Z</text>
<path fill="#fff" d="M367.5 18.5L372.5 28L369.2 28L369.2 64.5L365.8 64.5L365.8 28L362.5 28z"/>
<text x="361.5" y="97.3" font-family='"Liberation Sans", sans-serif' font-weight="bold" font-style="italic" font-size="19" fill="#fff">Z</text>
<path fill="#fff" d="M559 18L564 27.5L560.7 27.5L560.7 64L557.3 64L557.3 27.5L554 27.5z"/>
<text x="553.5" y="97.3" font-family='"Liberation Sans", sans-serif' font-weight="bold" font-style="italic" font-size="19" fill="#fff">Z</text>
<text x="1.5" y="62" font-size="40" text-anchor="start" font-weight="normal" font-style="normal" fill="#000">a)</text>
<text x="1.2" y="587.5" font-size="40.5" text-anchor="start" font-weight="normal" font-style="normal" fill="#000">b)</text>
<text x="116.3" y="29" font-size="19" text-anchor="middle" font-weight="bold" font-style="normal" fill="#000"><tspan font-weight="normal" font-size="20">ν</tspan><tspan font-size="13" dy="3.5">z</tspan></text>
<text x="116.3" y="51.8" font-size="19" text-anchor="middle" font-weight="bold" font-style="normal" fill="#000">80 kHz</text>
<text x="116.3" y="75.8" font-size="19" text-anchor="middle" font-weight="bold" font-style="normal" fill="#000"><tspan font-weight="normal" font-size="20">ρ</tspan><tspan font-size="13" dy="3">z,max</tspan></text>
<text x="113.8" y="99" font-size="19" text-anchor="middle" font-weight="bold" font-style="normal" fill="#000">3.2 <tspan font-style="italic">μ</tspan>m</text>
<text x="310.4" y="29" font-size="19" text-anchor="middle" font-weight="bold" font-style="normal" fill="#000"><tspan font-weight="normal" font-size="20">ν</tspan><tspan font-size="13" dy="3.5">z</tspan></text>
<text x="310.4" y="51.8" font-size="19" text-anchor="middle" font-weight="bold" font-style="normal" fill="#000">108 kHz</text>
<text x="310.4" y="75.8" font-size="19" text-anchor="middle" font-weight="bold" font-style="normal" fill="#000"><tspan font-weight="normal" font-size="20">ρ</tspan><tspan font-size="13" dy="3">z,max</tspan></text>
<text x="312.4" y="99" font-size="19" text-anchor="middle" font-weight="bold" font-style="normal" fill="#000">2.8 <tspan font-style="italic">μ</tspan>m</text>
<text x="500.4" y="29" font-size="19" text-anchor="middle" font-weight="bold" font-style="normal" fill="#000"><tspan font-weight="normal" font-size="20">ν</tspan><tspan font-size="13" dy="3.5">z</tspan></text>
<text x="500.4" y="51.8" font-size="19" text-anchor="middle" font-weight="bold" font-style="normal" fill="#000">202 kHz</text>
<text x="500.4" y="75.8" font-size="19" text-anchor="middle" font-weight="bold" font-style="normal" fill="#000"><tspan font-weight="normal" font-size="20">ρ</tspan><tspan font-size="13" dy="3">z,max</tspan></text>
<text x="498.9" y="99" font-size="19" text-anchor="middle" font-weight="bold" font-style="normal" fill="#000">1.2 <tspan font-style="italic">μ</tspan>m</text>
<rect x="161.9" y="127.1" width="495.7" height="374.6" fill="none" stroke="#333" stroke-width="1.4"/>
<line x1="392.4" y1="126" x2="392.4" y2="258.2" stroke="#c8c8e0" stroke-width="1.2"/>
<line x1="420.9" y1="143.1" x2="420.9" y2="194.3" stroke="#d8d8f0" stroke-width="1.2"/>
<line x1="453.9" y1="348" x2="453.9" y2="399.2" stroke="#f0c8c8" stroke-width="1.2"/>
<line x1="449.3" y1="276.3" x2="449.3" y2="310.5" stroke="#d8d8f0" stroke-width="1.2"/>
<line x1="363.4" y1="269.5" x2="363.4" y2="330.9" stroke="#d8d8f0" stroke-width="1.2"/>
<line x1="504.6" y1="440.2" x2="504.6" y2="477.8" stroke="#d8d8f0" stroke-width="1.2"/>
<line x1="533.1" y1="464.1" x2="533.1" y2="501.7" stroke="#d8d8f0" stroke-width="1.2"/>
<line x1="538.6" y1="467.6" x2="538.6" y2="501.7" stroke="#f0c8c8" stroke-width="1.2"/>
<line x1="651.4" y1="474.4" x2="651.4" y2="501.7" stroke="#f0c8c8" stroke-width="1.2"/>
<line x1="482.2" y1="426.6" x2="482.2" y2="474.4" stroke="#f0c8c8" stroke-width="1.2"/>
<line x1="227.6" y1="471" x2="227.6" y2="501.7" stroke="#f0c8c8" stroke-width="1.2"/>
<g clip-path="url(#clipA)"><circle cx="165.6" cy="495.6" r="6.4" fill="#4a5af0" fill-opacity="0.8" stroke="#2020b0" stroke-opacity="0.35" stroke-width="0.7"/><circle cx="192.9" cy="495.2" r="6.4" fill="#4a5af0" fill-opacity="0.8" stroke="#2020b0" stroke-opacity="0.35" stroke-width="0.7"/><circle cx="251.1" cy="489.4" r="6.4" fill="#4a5af0" fill-opacity="0.8" stroke="#2020b0" stroke-opacity="0.35" stroke-width="0.7"/><circle cx="278.4" cy="481.2" r="6.4" fill="#4a5af0" fill-opacity="0.8" stroke="#2020b0" stroke-opacity="0.35" stroke-width="0.7"/><circle cx="305.7" cy="469.3" r="6.4" fill="#4a5af0" fill-opacity="0.8" stroke="#2020b0" stroke-opacity="0.35" stroke-width="0.7"/><circle cx="335.4" cy="415.3" r="6.4" fill="#4a5af0" fill-opacity="0.8" stroke="#2020b0" stroke-opacity="0.35" stroke-width="0.7"/><circle cx="363.9" cy="294.1" r="6.4" fill="#4a5af0" fill-opacity="0.8" stroke="#2020b0" stroke-opacity="0.35" stroke-width="0.7"/><circle cx="392.4" cy="185.1" r="6.4" fill="#4a5af0" fill-opacity="0.8" stroke="#2020b0" stroke-opacity="0.35" stroke-width="0.7"/><circle cx="421.2" cy="160.2" r="6.4" fill="#4a5af0" fill-opacity="0.8" stroke="#2020b0" stroke-opacity="0.35" stroke-width="0.7"/><circle cx="449.3" cy="286.6" r="6.4" fill="#4a5af0" fill-opacity="0.8" stroke="#2020b0" stroke-opacity="0.35" stroke-width="0.7"/><circle cx="476.7" cy="395.8" r="6.4" fill="#4a5af0" fill-opacity="0.8" stroke="#2020b0" stroke-opacity="0.35" stroke-width="0.7"/><circle cx="504.6" cy="460" r="6.4" fill="#4a5af0" fill-opacity="0.8" stroke="#2020b0" stroke-opacity="0.35" stroke-width="0.7"/><circle cx="533.1" cy="485.6" r="6.4" fill="#4a5af0" fill-opacity="0.8" stroke="#2020b0" stroke-opacity="0.35" stroke-width="0.7"/><circle cx="560.9" cy="473.4" r="6.4" fill="#4a5af0" fill-opacity="0.8" stroke="#2020b0" stroke-opacity="0.35" stroke-width="0.7"/><circle cx="589.4" cy="492.1" r="6.4" fill="#4a5af0" fill-opacity="0.8" stroke="#2020b0" stroke-opacity="0.35" stroke-width="0.7"/><circle cx="617.9" cy="491.1" r="6.4" fill="#4a5af0" fill-opacity="0.8" stroke="#2020b0" stroke-opacity="0.35" stroke-width="0.7"/><circle cx="646.4" cy="499" r="6.4" fill="#4a5af0" fill-opacity="0.8" stroke="#2020b0" stroke-opacity="0.35" stroke-width="0.7"/><circle cx="170.6" cy="499" r="6.4" fill="#ff2020" fill-opacity="0.78" stroke="#b01010" stroke-opacity="0.35" stroke-width="0.7"/><circle cx="199.1" cy="494.2" r="6.4" fill="#ff2020" fill-opacity="0.78" stroke="#b01010" stroke-opacity="0.35" stroke-width="0.7"/><circle cx="227.6" cy="486.3" r="6.4" fill="#ff2020" fill-opacity="0.78" stroke="#b01010" stroke-opacity="0.35" stroke-width="0.7"/><circle cx="256.1" cy="476.8" r="6.4" fill="#ff2020" fill-opacity="0.78" stroke="#b01010" stroke-opacity="0.35" stroke-width="0.7"/><circle cx="283.3" cy="492.8" r="6.4" fill="#ff2020" fill-opacity="0.78" stroke="#b01010" stroke-opacity="0.35" stroke-width="0.7"/><circle cx="311.8" cy="475.7" r="6.4" fill="#ff2020" fill-opacity="0.78" stroke="#b01010" stroke-opacity="0.35" stroke-width="0.7"/><circle cx="341.1" cy="453.9" r="6.4" fill="#ff2020" fill-opacity="0.78" stroke="#b01010" stroke-opacity="0.35" stroke-width="0.7"/><circle cx="368.9" cy="337.4" r="6.4" fill="#ff2020" fill-opacity="0.78" stroke="#b01010" stroke-opacity="0.35" stroke-width="0.7"/><circle cx="396.7" cy="160.2" r="6.4" fill="#ff2020" fill-opacity="0.78" stroke="#b01010" stroke-opacity="0.35" stroke-width="0.7"/><circle cx="425.5" cy="194.3" r="6.4" fill="#ff2020" fill-opacity="0.78" stroke="#b01010" stroke-opacity="0.35" stroke-width="0.7"/><circle cx="453.9" cy="370.2" r="6.4" fill="#ff2020" fill-opacity="0.78" stroke="#b01010" stroke-opacity="0.35" stroke-width="0.7"/><circle cx="482.2" cy="451.2" r="6.4" fill="#ff2020" fill-opacity="0.78" stroke="#b01010" stroke-opacity="0.35" stroke-width="0.7"/><circle cx="510.1" cy="485" r="6.4" fill="#ff2020" fill-opacity="0.78" stroke="#b01010" stroke-opacity="0.35" stroke-width="0.7"/><circle cx="538.6" cy="486.7" r="6.4" fill="#ff2020" fill-opacity="0.78" stroke="#b01010" stroke-opacity="0.35" stroke-width="0.7"/><circle cx="565.9" cy="487.7" r="6.4" fill="#ff2020" fill-opacity="0.78" stroke="#b01010" stroke-opacity="0.35" stroke-width="0.7"/><circle cx="594.4" cy="496.6" r="6.4" fill="#ff2020" fill-opacity="0.78" stroke="#b01010" stroke-opacity="0.35" stroke-width="0.7"/><circle cx="622.9" cy="489.1" r="6.4" fill="#ff2020" fill-opacity="0.78" stroke="#b01010" stroke-opacity="0.35" stroke-width="0.7"/><circle cx="651.4" cy="489.1" r="6.4" fill="#ff2020" fill-opacity="0.78" stroke="#b01010" stroke-opacity="0.35" stroke-width="0.7"/></g>
<circle cx="316.8" cy="464.1" r="4" fill="#1010e0"/>
<path d="M161.9 501.7 L163.1 501.7 L164.4 501.7 L165.6 501.7 L166.9 501.7 L168.1 501.7 L169.3 501.7 L170.6 501.7 L171.8 501.7 L173.1 501.7 L174.3 501.7 L175.5 501.7 L176.8 501.7 L178 501.7 L179.2 501.7 L180.5 501.7 L181.7 501.7 L183 501.7 L184.2 501.7 L185.4 501.7 L186.7 501.7 L187.9 501.7 L189.2 501.7 L190.4 501.7 L191.6 501.7 L192.9 501.7 L194.1 501.7 L195.4 501.7 L196.6 501.7 L197.8 501.7 L199.1 501.7 L200.3 501.7 L201.6 501.7 L202.8 501.7 L204 501.7 L205.3 501.7 L206.5 501.7 L207.8 501.7 L209 501.7 L210.2 501.7 L211.5 501.7 L212.7 501.7 L213.9 501.7 L215.2 501.7 L216.4 501.7 L217.7 501.7 L218.9 501.7 L220.1 501.7 L221.4 501.7 L222.6 501.7 L223.9 501.7 L225.1 501.6 L226.3 501.6 L227.6 501.6 L228.8 501.6 L230.1 501.6 L231.3 501.6 L232.5 501.6 L233.8 501.6 L235 501.6 L236.3 501.6 L237.5 501.5 L238.7 501.5 L240 501.5 L241.2 501.5 L242.5 501.4 L243.7 501.4 L244.9 501.4 L246.2 501.4 L247.4 501.3 L248.6 501.3 L249.9 501.2 L251.1 501.2 L252.4 501.1 L253.6 501.1 L254.8 501 L256.1 500.9 L257.3 500.8 L258.6 500.8 L259.8 500.7 L261 500.6 L262.3 500.4 L263.5 500.3 L264.8 500.2 L266 500 L267.2 499.9 L268.5 499.7 L269.7 499.5 L271 499.3 L272.2 499.1 L273.4 498.9 L274.7 498.6 L275.9 498.3 L277.2 498 L278.4 497.7 L279.6 497.3 L280.9 497 L282.1 496.6 L283.3 496.1 L284.6 495.7 L285.8 495.2 L287.1 494.6 L288.3 494.1 L289.5 493.4 L290.8 492.8 L292 492.1 L293.3 491.3 L294.5 490.5 L295.7 489.7 L297 488.8 L298.2 487.8 L299.5 486.8 L300.7 485.7 L301.9 484.6 L303.2 483.4 L304.4 482.1 L305.7 480.8 L306.9 479.3 L308.1 477.8 L309.4 476.2 L310.6 474.6 L311.8 472.8 L313.1 470.9 L314.3 469 L315.6 466.9 L316.8 464.8 L318 462.6 L319.3 460.2 L320.5 457.8 L321.8 455.2 L323 452.6 L324.2 449.8 L325.5 446.9 L326.7 443.9 L328 440.8 L329.2 437.5 L330.4 434.2 L331.7 430.7 L332.9 427.1 L334.2 423.3 L335.4 419.5 L336.6 415.5 L337.9 411.5 L339.1 407.3 L340.4 402.9 L341.6 398.5 L342.8 394 L344.1 389.3 L345.3 384.5 L346.5 379.7 L347.8 374.7 L349 369.6 L350.3 364.4 L351.5 359.2 L352.7 353.9 L354 348.4 L355.2 342.9 L356.5 337.4 L357.7 331.8 L358.9 326.1 L360.2 320.4 L361.4 314.6 L362.7 308.8 L363.9 303 L365.1 297.2 L366.4 291.4 L367.6 285.5 L368.9 279.7 L370.1 274 L371.3 268.2 L372.6 262.5 L373.8 256.9 L375.1 251.3 L376.3 245.8 L377.5 240.3 L378.8 235 L380 229.8 L381.2 224.7 L382.5 219.7 L383.7 214.9 L385 210.2 L386.2 205.7 L387.4 201.3 L388.7 197.1 L389.9 193.1 L391.2 189.3 L392.4 185.7 L393.6 182.3 L394.9 179.1 L396.1 176.2 L397.4 173.4 L398.6 171 L399.8 168.7 L401.1 166.8 L402.3 165 L403.6 163.6 L404.8 162.4 L406 161.4 L407.3 160.7 L408.5 160.3 L409.8 160.2 L411 160.3 L412.2 160.7 L413.5 161.4 L414.7 162.4 L415.9 163.6 L417.2 165 L418.4 166.8 L419.7 168.7 L420.9 171 L422.1 173.4 L423.4 176.2 L424.6 179.1 L425.9 182.3 L427.1 185.7 L428.3 189.3 L429.6 193.1 L430.8 197.1 L432.1 201.3 L433.3 205.7 L434.5 210.2 L435.8 214.9 L437 219.7 L438.3 224.7 L439.5 229.8 L440.7 235 L442 240.3 L443.2 245.8 L444.4 251.3 L445.7 256.9 L446.9 262.5 L448.2 268.2 L449.4 274 L450.6 279.7 L451.9 285.5 L453.1 291.4 L454.4 297.2 L455.6 303 L456.8 308.8 L458.1 314.6 L459.3 320.4 L460.6 326.1 L461.8 331.8 L463 337.4 L464.3 342.9 L465.5 348.4 L466.8 353.9 L468 359.2 L469.2 364.4 L470.5 369.6 L471.7 374.7 L473 379.7 L474.2 384.5 L475.4 389.3 L476.7 394 L477.9 398.5 L479.1 402.9 L480.4 407.3 L481.6 411.5 L482.9 415.5 L484.1 419.5 L485.3 423.3 L486.6 427.1 L487.8 430.7 L489.1 434.2 L490.3 437.5 L491.5 440.8 L492.8 443.9 L494 446.9 L495.3 449.8 L496.5 452.6 L497.7 455.2 L499 457.8 L500.2 460.2 L501.5 462.6 L502.7 464.8 L503.9 466.9 L505.2 469 L506.4 470.9 L507.7 472.8 L508.9 474.6 L510.1 476.2 L511.4 477.8 L512.6 479.3 L513.8 480.8 L515.1 482.1 L516.3 483.4 L517.6 484.6 L518.8 485.7 L520 486.8 L521.3 487.8 L522.5 488.8 L523.8 489.7 L525 490.5 L526.2 491.3 L527.5 492.1 L528.7 492.8 L530 493.4 L531.2 494.1 L532.4 494.6 L533.7 495.2 L534.9 495.7 L536.2 496.1 L537.4 496.6 L538.6 497 L539.9 497.3 L541.1 497.7 L542.3 498 L543.6 498.3 L544.8 498.6 L546.1 498.9 L547.3 499.1 L548.5 499.3 L549.8 499.5 L551 499.7 L552.3 499.9 L553.5 500 L554.7 500.2 L556 500.3 L557.2 500.4 L558.5 500.6 L559.7 500.7 L560.9 500.8 L562.2 500.8 L563.4 500.9 L564.7 501 L565.9 501.1 L567.1 501.1 L568.4 501.2 L569.6 501.2 L570.9 501.3 L572.1 501.3 L573.3 501.4 L574.6 501.4 L575.8 501.4 L577 501.4 L578.3 501.5 L579.5 501.5 L580.8 501.5 L582 501.5 L583.2 501.6 L584.5 501.6 L585.7 501.6 L587 501.6 L588.2 501.6 L589.4 501.6 L590.7 501.6 L591.9 501.6 L593.2 501.6 L594.4 501.6 L595.6 501.7 L596.9 501.7 L598.1 501.7 L599.4 501.7 L600.6 501.7 L601.8 501.7 L603.1 501.7 L604.3 501.7 L605.6 501.7 L606.8 501.7 L608 501.7 L609.3 501.7 L610.5 501.7 L611.7 501.7 L613 501.7 L614.2 501.7 L615.5 501.7 L616.7 501.7 L617.9 501.7 L619.2 501.7 L620.4 501.7 L621.7 501.7 L622.9 501.7 L624.1 501.7 L625.4 501.7 L626.6 501.7 L627.9 501.7 L629.1 501.7 L630.3 501.7 L631.6 501.7 L632.8 501.7 L634.1 501.7 L635.3 501.7 L636.5 501.7 L637.8 501.7 L639 501.7 L640.3 501.7 L641.5 501.7 L642.7 501.7 L644 501.7 L645.2 501.7 L646.4 501.7 L647.7 501.7 L648.9 501.7 L650.2 501.7 L651.4 501.7 L652.6 501.7 L653.9 501.7 L655.1 501.7 L656.4 501.7 L657.6 501.7" fill="none" stroke="#0a0ad0" stroke-width="2.6" stroke-linejoin="round"/>
<path d="M161.9 501.7 L163.1 501.7 L164.4 501.7 L165.6 501.7 L166.9 501.7 L168.1 501.7 L169.3 501.7 L170.6 501.7 L171.8 501.7 L173.1 501.7 L174.3 501.7 L175.5 501.7 L176.8 501.7 L178 501.7 L179.2 501.7 L180.5 501.7 L181.7 501.7 L183 501.7 L184.2 501.7 L185.4 501.7 L186.7 501.7 L187.9 501.7 L189.2 501.7 L190.4 501.7 L191.6 501.7 L192.9 501.7 L194.1 501.7 L195.4 501.7 L196.6 501.7 L197.8 501.7 L199.1 501.7 L200.3 501.7 L201.6 501.7 L202.8 501.7 L204 501.7 L205.3 501.7 L206.5 501.7 L207.8 501.7 L209 501.7 L210.2 501.7 L211.5 501.7 L212.7 501.7 L213.9 501.7 L215.2 501.7 L216.4 501.7 L217.7 501.7 L218.9 501.7 L220.1 501.7 L221.4 501.7 L222.6 501.7 L223.9 501.7 L225.1 501.7 L226.3 501.7 L227.6 501.7 L228.8 501.7 L230.1 501.7 L231.3 501.7 L232.5 501.7 L233.8 501.7 L235 501.7 L236.3 501.7 L237.5 501.7 L238.7 501.7 L240 501.7 L241.2 501.7 L242.5 501.7 L243.7 501.7 L244.9 501.7 L246.2 501.7 L247.4 501.7 L248.6 501.7 L249.9 501.7 L251.1 501.7 L252.4 501.7 L253.6 501.7 L254.8 501.7 L256.1 501.7 L257.3 501.7 L258.6 501.7 L259.8 501.7 L261 501.7 L262.3 501.7 L263.5 501.7 L264.8 501.7 L266 501.7 L267.2 501.7 L268.5 501.7 L269.7 501.7 L271 501.7 L272.2 501.6 L273.4 501.6 L274.7 501.6 L275.9 501.6 L277.2 501.6 L278.4 501.6 L279.6 501.6 L280.9 501.5 L282.1 501.5 L283.3 501.5 L284.6 501.4 L285.8 501.4 L287.1 501.4 L288.3 501.3 L289.5 501.2 L290.8 501.2 L292 501.1 L293.3 501 L294.5 500.9 L295.7 500.8 L297 500.7 L298.2 500.5 L299.5 500.4 L300.7 500.2 L301.9 500 L303.2 499.8 L304.4 499.6 L305.7 499.3 L306.9 499 L308.1 498.6 L309.4 498.3 L310.6 497.9 L311.8 497.4 L313.1 496.9 L314.3 496.4 L315.6 495.7 L316.8 495.1 L318 494.3 L319.3 493.5 L320.5 492.6 L321.8 491.7 L323 490.6 L324.2 489.5 L325.5 488.2 L326.7 486.9 L328 485.4 L329.2 483.9 L330.4 482.2 L331.7 480.3 L332.9 478.4 L334.2 476.2 L335.4 474 L336.6 471.5 L337.9 468.9 L339.1 466.2 L340.4 463.2 L341.6 460.1 L342.8 456.7 L344.1 453.2 L345.3 449.5 L346.5 445.5 L347.8 441.4 L349 437 L350.3 432.4 L351.5 427.6 L352.7 422.5 L354 417.3 L355.2 411.8 L356.5 406.1 L357.7 400.2 L358.9 394 L360.2 387.7 L361.4 381.2 L362.7 374.4 L363.9 367.5 L365.1 360.4 L366.4 353.1 L367.6 345.7 L368.9 338.1 L370.1 330.4 L371.3 322.6 L372.6 314.8 L373.8 306.8 L375.1 298.8 L376.3 290.7 L377.5 282.7 L378.8 274.7 L380 266.7 L381.2 258.7 L382.5 250.9 L383.7 243.1 L385 235.5 L386.2 228.1 L387.4 220.8 L388.7 213.8 L389.9 207 L391.2 200.5 L392.4 194.3 L393.6 188.3 L394.9 182.8 L396.1 177.5 L397.4 172.7 L398.6 168.2 L399.8 164.2 L401.1 160.6 L402.3 157.5 L403.6 154.8 L404.8 152.6 L406 150.8 L407.3 149.6 L408.5 148.8 L409.8 148.6 L411 148.8 L412.2 149.6 L413.5 150.8 L414.7 152.6 L415.9 154.8 L417.2 157.5 L418.4 160.6 L419.7 164.2 L420.9 168.2 L422.1 172.7 L423.4 177.5 L424.6 182.8 L425.9 188.3 L427.1 194.3 L428.3 200.5 L429.6 207 L430.8 213.8 L432.1 220.8 L433.3 228.1 L434.5 235.5 L435.8 243.1 L437 250.9 L438.3 258.7 L439.5 266.7 L440.7 274.7 L442 282.7 L443.2 290.7 L444.4 298.8 L445.7 306.8 L446.9 314.8 L448.2 322.6 L449.4 330.4 L450.6 338.1 L451.9 345.7 L453.1 353.1 L454.4 360.4 L455.6 367.5 L456.8 374.4 L458.1 381.2 L459.3 387.7 L460.6 394 L461.8 400.2 L463 406.1 L464.3 411.8 L465.5 417.3 L466.8 422.5 L468 427.6 L469.2 432.4 L470.5 437 L471.7 441.4 L473 445.5 L474.2 449.5 L475.4 453.2 L476.7 456.7 L477.9 460.1 L479.1 463.2 L480.4 466.2 L481.6 468.9 L482.9 471.5 L484.1 474 L485.3 476.2 L486.6 478.4 L487.8 480.3 L489.1 482.2 L490.3 483.9 L491.5 485.4 L492.8 486.9 L494 488.2 L495.3 489.5 L496.5 490.6 L497.7 491.7 L499 492.6 L500.2 493.5 L501.5 494.3 L502.7 495.1 L503.9 495.7 L505.2 496.4 L506.4 496.9 L507.7 497.4 L508.9 497.9 L510.1 498.3 L511.4 498.6 L512.6 499 L513.8 499.3 L515.1 499.6 L516.3 499.8 L517.6 500 L518.8 500.2 L520 500.4 L521.3 500.5 L522.5 500.7 L523.8 500.8 L525 500.9 L526.2 501 L527.5 501.1 L528.7 501.2 L530 501.2 L531.2 501.3 L532.4 501.4 L533.7 501.4 L534.9 501.4 L536.2 501.5 L537.4 501.5 L538.6 501.5 L539.9 501.6 L541.1 501.6 L542.3 501.6 L543.6 501.6 L544.8 501.6 L546.1 501.6 L547.3 501.6 L548.5 501.7 L549.8 501.7 L551 501.7 L552.3 501.7 L553.5 501.7 L554.7 501.7 L556 501.7 L557.2 501.7 L558.5 501.7 L559.7 501.7 L560.9 501.7 L562.2 501.7 L563.4 501.7 L564.7 501.7 L565.9 501.7 L567.1 501.7 L568.4 501.7 L569.6 501.7 L570.9 501.7 L572.1 501.7 L573.3 501.7 L574.6 501.7 L575.8 501.7 L577 501.7 L578.3 501.7 L579.5 501.7 L580.8 501.7 L582 501.7 L583.2 501.7 L584.5 501.7 L585.7 501.7 L587 501.7 L588.2 501.7 L589.4 501.7 L590.7 501.7 L591.9 501.7 L593.2 501.7 L594.4 501.7 L595.6 501.7 L596.9 501.7 L598.1 501.7 L599.4 501.7 L600.6 501.7 L601.8 501.7 L603.1 501.7 L604.3 501.7 L605.6 501.7 L606.8 501.7 L608 501.7 L609.3 501.7 L610.5 501.7 L611.7 501.7 L613 501.7 L614.2 501.7 L615.5 501.7 L616.7 501.7 L617.9 501.7 L619.2 501.7 L620.4 501.7 L621.7 501.7 L622.9 501.7 L624.1 501.7 L625.4 501.7 L626.6 501.7 L627.9 501.7 L629.1 501.7 L630.3 501.7 L631.6 501.7 L632.8 501.7 L634.1 501.7 L635.3 501.7 L636.5 501.7 L637.8 501.7 L639 501.7 L640.3 501.7 L641.5 501.7 L642.7 501.7 L644 501.7 L645.2 501.7 L646.4 501.7 L647.7 501.7 L648.9 501.7 L650.2 501.7 L651.4 501.7 L652.6 501.7 L653.9 501.7 L655.1 501.7 L656.4 501.7 L657.6 501.7" fill="none" stroke="#dd1414" stroke-width="2.6" stroke-linejoin="round"/>
<path stroke="#333" stroke-width="1.3" fill="none" d="M161.9 501.7L168.9 501.7M657.6 501.7L650.6 501.7M161.9 467.6L165.4 467.6M657.6 467.6L654.1 467.6M161.9 433.4L168.9 433.4M657.6 433.4L650.6 433.4M161.9 399.2L165.4 399.2M657.6 399.2L654.1 399.2M161.9 365.1L168.9 365.1M657.6 365.1L650.6 365.1M161.9 330.9L165.4 330.9M657.6 330.9L654.1 330.9M161.9 296.8L168.9 296.8M657.6 296.8L650.6 296.8M161.9 262.6L165.4 262.6M657.6 262.6L654.1 262.6M161.9 228.5L168.9 228.5M657.6 228.5L650.6 228.5M161.9 194.3L165.4 194.3M657.6 194.3L654.1 194.3M161.9 160.2L168.9 160.2M657.6 160.2L650.6 160.2M161.9 501.7L161.9 494.7M161.9 127.1L161.9 134.1M223.9 501.7L223.9 498.2M223.9 127.1L223.9 130.6M285.8 501.7L285.8 494.7M285.8 127.1L285.8 134.1M347.8 501.7L347.8 498.2M347.8 127.1L347.8 130.6M409.8 501.7L409.8 494.7M409.8 127.1L409.8 134.1M471.7 501.7L471.7 498.2M471.7 127.1L471.7 130.6M533.7 501.7L533.7 494.7M533.7 127.1L533.7 134.1M595.6 501.7L595.6 498.2M595.6 127.1L595.6 130.6M657.6 501.7L657.6 494.7M657.6 127.1L657.6 134.1"/>
<text x="153.8" y="510.4" font-size="30" text-anchor="end" font-weight="normal" font-style="normal" fill="#000">0.0</text>
<text x="153.8" y="442.1" font-size="30" text-anchor="end" font-weight="normal" font-style="normal" fill="#000">0.2</text>
<text x="153.8" y="373.8" font-size="30" text-anchor="end" font-weight="normal" font-style="normal" fill="#000">0.4</text>
<text x="153.8" y="305.5" font-size="30" text-anchor="end" font-weight="normal" font-style="normal" fill="#000">0.6</text>
<text x="153.8" y="237.2" font-size="30" text-anchor="end" font-weight="normal" font-style="normal" fill="#000">0.8</text>
<text x="153.8" y="168.9" font-size="30" text-anchor="end" font-weight="normal" font-style="normal" fill="#000">1.0</text>
<text x="160.9" y="534.3" font-size="29" text-anchor="middle" font-weight="normal" font-style="normal" fill="#000">-20</text>
<text x="284.8" y="534.3" font-size="29" text-anchor="middle" font-weight="normal" font-style="normal" fill="#000">-10</text>
<text x="409.8" y="534.3" font-size="29" text-anchor="middle" font-weight="normal" font-style="normal" fill="#000">0</text>
<text x="533.7" y="534.3" font-size="29" text-anchor="middle" font-weight="normal" font-style="normal" fill="#000">10</text>
<text x="657.6" y="534.3" font-size="29" text-anchor="middle" font-weight="normal" font-style="normal" fill="#000">20</text>
<text x="81.8" y="341.7" font-size="41.8" text-anchor="middle" font-weight="normal" font-style="normal" fill="#000" transform="rotate(-90 81.8 341.7)">Photons</text>
<circle cx="206" cy="172.2" r="6.4" fill="#4a5af0" fill-opacity="0.8" stroke="#2020b0" stroke-opacity="0.35" stroke-width="0.7"/>
<line x1="185.3" y1="201" x2="227.4" y2="201" stroke="#0a0ad0" stroke-width="2.6"/>
<circle cx="206" cy="226.4" r="6.4" fill="#ff2020" fill-opacity="0.78" stroke="#b01010" stroke-opacity="0.35" stroke-width="0.7"/>
<line x1="185.3" y1="255.2" x2="227.4" y2="255.2" stroke="#dd1414" stroke-width="2.6"/>
<text x="232" y="180" font-size="18.2" text-anchor="start" font-weight="normal" font-style="normal" fill="#000">ν<tspan font-size="12.5" dy="6.5">z</tspan><tspan dy="-6.5"> ~ 108 kHz</tspan></text>
<text x="232.5" y="208.3" font-size="18.2" text-anchor="start" font-weight="normal" font-style="normal" fill="#000">Gaussian fit</text>
<text x="232" y="234.3" font-size="18.2" text-anchor="start" font-weight="normal" font-style="normal" fill="#000">ν<tspan font-size="12.5" dy="6.5">z</tspan><tspan dy="-6.5"> ~ 202 kHz</tspan></text>
<text x="232.5" y="263.1" font-size="18.2" text-anchor="start" font-weight="normal" font-style="normal" fill="#000">Gaussian fit</text>
<rect x="187" y="589.8" width="103" height="102.6" fill="#0030fc"/>
<path fill="#0090fc" shape-rendering="crispEdges" d="M187 589.8h3.5v3.5h-3.5zM221.3 593.2h3.5v3.5h-3.5zM197.3 596.6h3.5v3.5h-3.5zM283.1 596.6h3.5v3.5h-3.5zM286.6 600.1h3.5v3.5h-3.5zM217.9 603.5h3.5v3.5h-3.5zM204.2 606.9h3.5v3.5h-3.5zM266 606.9h3.5v3.5h-3.5zM266 613.7h3.5v3.5h-3.5zM214.5 617.2h3.5v3.5h-3.5zM283.1 620.6h3.5v3.5h-3.5zM200.7 647.9h3.5v3.5h-3.5zM214.5 654.8h3.5v3.5h-3.5zM193.9 665h3.5v3.5h-3.5zM286.6 682.1h3.5v3.5h-3.5zM204.2 685.6h3.5v3.5h-3.5z"/>
<path fill="#0024fc" shape-rendering="crispEdges" d="M190.4 589.8h3.5v3.5h-3.5zM276.3 589.8h3.5v3.5h-3.5zM286.6 589.8h3.5v3.5h-3.5zM272.8 593.2h3.5v3.5h-3.5zM187 596.6h3.5v3.5h-3.5zM200.7 596.6h3.5v3.5h-3.5zM279.7 600.1h3.5v3.5h-3.5zM187 603.5h3.5v3.5h-3.5zM272.8 603.5h3.5v3.5h-3.5zM187 610.3h3.5v3.5h-3.5zM283.1 610.3h3.5v3.5h-3.5zM190.4 613.7h3.5v3.5h-3.5zM279.7 613.7h3.5v3.5h-3.5zM276.3 617.2h3.5v3.5h-3.5zM283.1 617.2h3.5v3.5h-3.5zM207.6 620.6h3.5v3.5h-3.5zM214.5 620.6h3.5v3.5h-3.5zM193.9 630.8h3.5v3.5h-3.5zM276.3 634.3h3.5v3.5h-3.5zM204.2 637.7h3.5v3.5h-3.5zM272.8 637.7h3.5v3.5h-3.5zM200.7 644.5h3.5v3.5h-3.5zM269.4 644.5h3.5v3.5h-3.5zM286.6 647.9h3.5v3.5h-3.5zM187 651.4h3.5v3.5h-3.5zM187 654.8h3.5v3.5h-3.5zM269.4 665h3.5v3.5h-3.5zM190.4 668.5h3.5v3.5h-3.5zM276.3 668.5h3.5v3.5h-3.5zM190.4 671.9h3.5v3.5h-3.5zM207.6 671.9h3.5v3.5h-3.5zM217.9 671.9h3.5v3.5h-3.5zM283.1 671.9h3.5v3.5h-3.5zM211 675.3h6.9v3.5h-6.9zM197.3 678.7h3.5v3.5h-3.5zM214.5 678.7h3.5v3.5h-3.5zM276.3 678.7h3.5v3.5h-3.5zM193.9 682.1h3.5v3.5h-3.5zM190.4 685.6h3.5v3.5h-3.5zM221.3 685.6h3.5v3.5h-3.5zM204.2 689h6.9v3.5h-6.9zM221.3 689h3.5v3.5h-3.5z"/>
<path fill="#003cfc" shape-rendering="crispEdges" d="M193.9 589.8h3.5v3.5h-3.5zM204.2 589.8h6.9v3.5h-6.9zM269.4 589.8h3.5v3.5h-3.5zM217.9 593.2h3.5v3.5h-3.5zM193.9 600.1h3.5v3.5h-3.5zM204.2 600.1h3.5v3.5h-3.5zM214.5 600.1h3.5v3.5h-3.5zM276.3 600.1h3.5v3.5h-3.5zM197.3 603.5h3.5v3.5h-3.5zM187 606.9h3.5v3.5h-3.5zM200.7 610.3h3.5v3.5h-3.5zM269.4 610.3h3.5v3.5h-3.5zM197.3 617.2h3.5v3.5h-3.5zM187 620.6h3.5v3.5h-3.5zM279.7 620.6h3.5v3.5h-3.5zM207.6 624h3.5v3.5h-3.5zM272.8 624h3.5v3.5h-3.5zM266 627.4h3.5v3.5h-3.5zM279.7 627.4h3.5v3.5h-3.5zM207.6 634.3h3.5v3.5h-3.5zM279.7 647.9h3.5v3.5h-3.5zM193.9 654.8h3.5v3.5h-3.5zM187 658.2h3.5v3.5h-3.5zM266 658.2h3.5v3.5h-3.5zM214.5 665h3.5v3.5h-3.5zM276.3 665h3.5v3.5h-3.5zM197.3 671.9h3.5v3.5h-3.5zM187 678.7h3.5v3.5h-3.5zM207.6 678.7h3.5v3.5h-3.5zM272.8 678.7h3.5v3.5h-3.5zM217.9 682.1h3.5v3.5h-3.5zM283.1 682.1h3.5v3.5h-3.5zM200.7 685.6h3.5v3.5h-3.5zM187 689h3.5v3.5h-3.5zM241.9 689h3.5v3.5h-3.5z"/>
<path fill="#0054fc" shape-rendering="crispEdges" d="M197.3 589.8h3.5v3.5h-3.5zM197.3 593.2h3.5v3.5h-3.5zM262.5 593.2h3.5v3.5h-3.5zM279.7 593.2h3.5v3.5h-3.5zM187 600.1h3.5v3.5h-3.5zM217.9 600.1h3.5v3.5h-3.5zM207.6 603.5h6.9v3.5h-6.9zM279.7 606.9h3.5v3.5h-3.5zM193.9 613.7h3.5v3.5h-3.5zM200.7 613.7h3.5v3.5h-3.5zM211 613.7h3.5v3.5h-3.5zM193.9 620.6h3.5v3.5h-3.5zM207.6 627.4h3.5v3.5h-3.5zM283.1 630.8h3.5v3.5h-3.5zM283.1 634.3h3.5v3.5h-3.5zM279.7 637.7h3.5v3.5h-3.5zM283.1 641.1h3.5v3.5h-3.5zM272.8 644.5h3.5v3.5h-3.5zM266 651.4h3.5v3.5h-3.5zM276.3 654.8h3.5v3.5h-3.5zM200.7 658.2h3.5v3.5h-3.5zM200.7 661.6h3.5v3.5h-3.5zM259.1 671.9h3.5v3.5h-3.5zM276.3 671.9h3.5v3.5h-3.5zM262.5 675.3h3.5v3.5h-3.5zM259.1 678.7h3.5v3.5h-3.5zM266 678.7h3.5v3.5h-3.5zM259.1 682.1h3.5v3.5h-3.5zM187 685.6h3.5v3.5h-3.5zM266 685.6h3.5v3.5h-3.5z"/>
<path fill="#000cfc" shape-rendering="crispEdges" d="M200.7 589.8h3.5v3.5h-3.5zM204.2 596.6h3.5v3.5h-3.5zM190.4 603.5h3.5v3.5h-3.5zM279.7 603.5h3.5v3.5h-3.5zM286.6 627.4h3.5v3.5h-3.5zM204.2 630.8h3.5v3.5h-3.5zM193.9 634.3h3.5v3.5h-3.5zM269.4 641.1h3.5v3.5h-3.5zM187 647.9h3.5v3.5h-3.5zM207.6 647.9h6.9v3.5h-6.9zM272.8 654.8h3.5v3.5h-3.5zM204.2 668.5h3.5v3.5h-3.5zM190.4 678.7h3.5v3.5h-3.5zM279.7 678.7h3.5v3.5h-3.5zM200.7 689h3.5v3.5h-3.5zM217.9 689h3.5v3.5h-3.5zM248.8 689h3.5v3.5h-3.5z"/>
<path fill="#0000e4" shape-rendering="crispEdges" d="M211 589.8h3.5v3.5h-3.5zM193.9 593.2h3.5v3.5h-3.5zM193.9 624h3.5v3.5h-3.5zM276.3 624h3.5v3.5h-3.5zM200.7 634.3h3.5v3.5h-3.5zM204.2 678.7h3.5v3.5h-3.5zM211 685.6h3.5v3.5h-3.5z"/>
<path fill="#0078fc" shape-rendering="crispEdges" d="M214.5 589.8h3.5v3.5h-3.5zM190.4 593.2h3.5v3.5h-3.5zM259.1 593.2h3.5v3.5h-3.5zM286.6 593.2h3.5v3.5h-3.5zM279.7 596.6h3.5v3.5h-3.5zM221.3 600.1h3.5v3.5h-3.5zM200.7 606.9h3.5v3.5h-3.5zM197.3 610.3h3.5v3.5h-3.5zM262.5 610.3h3.5v3.5h-3.5zM214.5 613.7h3.5v3.5h-3.5zM272.8 613.7h6.9v3.5h-6.9zM193.9 617.2h3.5v3.5h-3.5zM266 620.6h3.5v3.5h-3.5zM272.8 620.6h3.5v3.5h-3.5zM266 624h3.5v3.5h-3.5zM279.7 624h3.5v3.5h-3.5zM214.5 630.8h3.5v3.5h-3.5zM283.1 637.7h3.5v3.5h-3.5zM276.3 641.1h3.5v3.5h-3.5zM187 644.5h3.5v3.5h-3.5zM214.5 644.5h3.5v3.5h-3.5zM266 644.5h3.5v3.5h-3.5zM197.3 654.8h3.5v3.5h-3.5zM207.6 658.2h3.5v3.5h-3.5zM193.9 661.6h3.5v3.5h-3.5zM266 661.6h3.5v3.5h-3.5zM266 665h3.5v3.5h-3.5zM283.1 665h3.5v3.5h-3.5zM259.1 675.3h3.5v3.5h-3.5zM193.9 678.7h3.5v3.5h-3.5zM231.6 689h3.5v3.5h-3.5zM276.3 689h3.5v3.5h-3.5z"/>
<path fill="#0060fc" shape-rendering="crispEdges" d="M217.9 589.8h3.5v3.5h-3.5zM224.8 589.8h3.5v3.5h-3.5zM259.1 589.8h3.5v3.5h-3.5zM286.6 596.6h3.5v3.5h-3.5zM190.4 600.1h3.5v3.5h-3.5zM193.9 603.5h3.5v3.5h-3.5zM204.2 603.5h3.5v3.5h-3.5zM197.3 606.9h3.5v3.5h-3.5zM286.6 606.9h3.5v3.5h-3.5zM214.5 610.3h3.5v3.5h-3.5zM279.7 610.3h3.5v3.5h-3.5zM200.7 617.2h3.5v3.5h-3.5zM286.6 617.2h3.5v3.5h-3.5zM200.7 620.6h3.5v3.5h-3.5zM283.1 624h3.5v3.5h-3.5zM269.4 627.4h3.5v3.5h-3.5zM187 630.8h3.5v3.5h-3.5zM190.4 634.3h3.5v3.5h-3.5zM211 634.3h3.5v3.5h-3.5zM269.4 637.7h3.5v3.5h-3.5zM276.3 637.7h3.5v3.5h-3.5zM204.2 641.1h3.5v3.5h-3.5zM214.5 641.1h3.5v3.5h-3.5zM272.8 641.1h3.5v3.5h-3.5zM214.5 647.9h3.5v3.5h-3.5zM266 647.9h6.9v3.5h-6.9zM211 651.4h3.5v3.5h-3.5zM272.8 651.4h3.5v3.5h-3.5zM279.7 651.4h3.5v3.5h-3.5zM286.6 651.4h3.5v3.5h-3.5zM190.4 654.8h3.5v3.5h-3.5zM207.6 654.8h3.5v3.5h-3.5zM272.8 658.2h3.5v3.5h-3.5zM214.5 661.6h3.5v3.5h-3.5zM276.3 661.6h3.5v3.5h-3.5zM279.7 665h3.5v3.5h-3.5zM193.9 668.5h3.5v3.5h-3.5zM214.5 668.5h6.9v3.5h-6.9zM269.4 668.5h3.5v3.5h-3.5zM221.3 671.9h3.5v3.5h-3.5zM221.3 675.3h3.5v3.5h-3.5zM272.8 675.3h3.5v3.5h-3.5zM217.9 678.7h6.9v3.5h-6.9zM207.6 682.1h6.9v3.5h-6.9zM193.9 685.6h3.5v3.5h-3.5zM214.5 685.6h3.5v3.5h-3.5zM224.8 685.6h3.5v3.5h-3.5zM286.6 685.6h3.5v3.5h-3.5zM266 689h3.5v3.5h-3.5z"/>
<path fill="#00b4fc" shape-rendering="crispEdges" d="M228.2 589.8h6.9v3.5h-6.9zM252.2 593.2h3.5v3.5h-3.5zM224.8 596.6h3.5v3.5h-3.5zM259.1 596.6h3.5v3.5h-3.5zM207.6 600.1h3.5v3.5h-3.5zM214.5 651.4h3.5v3.5h-3.5zM228.2 682.1h3.5v3.5h-3.5zM235.1 685.6h3.5v3.5h-3.5zM245.4 685.6h3.5v3.5h-3.5z"/>
<path fill="#00ccfc" shape-rendering="crispEdges" d="M235.1 589.8h3.5v3.5h-3.5zM248.8 589.8h3.5v3.5h-3.5zM255.7 589.8h3.5v3.5h-3.5zM235.1 593.2h3.5v3.5h-3.5zM221.3 596.6h3.5v3.5h-3.5zM217.9 606.9h6.9v3.5h-6.9zM214.5 634.3h3.5v3.5h-3.5zM262.5 641.1h3.5v3.5h-3.5zM217.9 654.8h3.5v3.5h-3.5zM259.1 665h3.5v3.5h-3.5zM266 668.5h3.5v3.5h-3.5zM255.7 675.3h3.5v3.5h-3.5zM238.5 689h3.5v3.5h-3.5z"/>
<path fill="#00a8fc" shape-rendering="crispEdges" d="M238.5 589.8h3.5v3.5h-3.5zM266 589.8h3.5v3.5h-3.5zM252.2 596.6h3.5v3.5h-3.5zM262.5 600.1h3.5v3.5h-3.5zM221.3 603.5h3.5v3.5h-3.5zM217.9 617.2h3.5v3.5h-3.5zM262.5 617.2h10.3v3.5h-10.3zM211 624h3.5v3.5h-3.5zM214.5 627.4h3.5v3.5h-3.5zM217.9 630.8h3.5v3.5h-3.5zM262.5 661.6h3.5v3.5h-3.5zM259.1 668.5h3.5v3.5h-3.5zM279.7 671.9h3.5v3.5h-3.5zM187 675.3h3.5v3.5h-3.5zM217.9 675.3h3.5v3.5h-3.5zM217.9 685.6h3.5v3.5h-3.5zM238.5 685.6h3.5v3.5h-3.5z"/>
<path fill="#24f0e4" shape-rendering="crispEdges" d="M241.9 589.8h3.5v3.5h-3.5zM248.8 593.2h3.5v3.5h-3.5zM259.1 606.9h3.5v3.5h-3.5z"/>
<path fill="#00e4fc" shape-rendering="crispEdges" d="M245.4 589.8h3.5v3.5h-3.5zM228.2 593.2h3.5v3.5h-3.5zM255.7 596.6h3.5v3.5h-3.5zM262.5 647.9h3.5v3.5h-3.5zM269.4 651.4h3.5v3.5h-3.5zM231.6 678.7h3.5v3.5h-3.5zM248.8 678.7h3.5v3.5h-3.5z"/>
<path fill="#0048fc" shape-rendering="crispEdges" d="M252.2 589.8h3.5v3.5h-3.5zM266 593.2h3.5v3.5h-3.5zM272.8 600.1h3.5v3.5h-3.5zM190.4 610.3h6.9v3.5h-6.9zM276.3 610.3h3.5v3.5h-3.5zM286.6 613.7h3.5v3.5h-3.5zM272.8 617.2h3.5v3.5h-3.5zM279.7 617.2h3.5v3.5h-3.5zM211 620.6h3.5v3.5h-3.5zM269.4 620.6h3.5v3.5h-3.5zM187 624h3.5v3.5h-3.5zM197.3 624h3.5v3.5h-3.5zM190.4 627.4h3.5v3.5h-3.5zM200.7 627.4h3.5v3.5h-3.5zM272.8 627.4h3.5v3.5h-3.5zM197.3 630.8h3.5v3.5h-3.5zM207.6 630.8h3.5v3.5h-3.5zM187 634.3h3.5v3.5h-3.5zM269.4 634.3h3.5v3.5h-3.5zM193.9 637.7h3.5v3.5h-3.5zM211 637.7h6.9v3.5h-6.9zM266 637.7h3.5v3.5h-3.5zM211 644.5h3.5v3.5h-3.5zM279.7 644.5h3.5v3.5h-3.5zM286.6 644.5h3.5v3.5h-3.5zM204.2 651.4h3.5v3.5h-3.5zM279.7 654.8h3.5v3.5h-3.5zM279.7 658.2h3.5v3.5h-3.5zM272.8 661.6h3.5v3.5h-3.5zM197.3 665h3.5v3.5h-3.5zM207.6 665h6.9v3.5h-6.9zM217.9 665h3.5v3.5h-3.5zM207.6 668.5h3.5v3.5h-3.5zM214.5 671.9h3.5v3.5h-3.5zM190.4 675.3h3.5v3.5h-3.5zM266 675.3h3.5v3.5h-3.5zM276.3 675.3h3.5v3.5h-3.5zM283.1 675.3h3.5v3.5h-3.5zM269.4 678.7h3.5v3.5h-3.5zM286.6 678.7h3.5v3.5h-3.5zM197.3 682.1h6.9v3.5h-6.9zM221.3 682.1h3.5v3.5h-3.5zM231.6 682.1h3.5v3.5h-3.5zM252.2 682.1h6.9v3.5h-6.9zM262.5 682.1h3.5v3.5h-3.5zM241.9 685.6h3.5v3.5h-3.5zM269.4 685.6h3.5v3.5h-3.5zM214.5 689h3.5v3.5h-3.5zM245.4 689h3.5v3.5h-3.5z"/>
<path fill="#0000f0" shape-rendering="crispEdges" d="M272.8 589.8h3.5v3.5h-3.5zM276.3 593.2h3.5v3.5h-3.5zM286.6 603.5h3.5v3.5h-3.5zM207.6 606.9h3.5v3.5h-3.5zM283.1 606.9h3.5v3.5h-3.5zM207.6 610.3h3.5v3.5h-3.5zM197.3 627.4h3.5v3.5h-3.5zM204.2 627.4h3.5v3.5h-3.5zM272.8 630.8h3.5v3.5h-3.5zM190.4 637.7h3.5v3.5h-3.5zM207.6 637.7h3.5v3.5h-3.5zM276.3 644.5h3.5v3.5h-3.5zM193.9 647.9h3.5v3.5h-3.5zM197.3 651.4h3.5v3.5h-3.5zM283.1 658.2h3.5v3.5h-3.5zM204.2 665h3.5v3.5h-3.5zM211 668.5h3.5v3.5h-3.5zM279.7 668.5h3.5v3.5h-3.5zM286.6 671.9h3.5v3.5h-3.5zM269.4 675.3h3.5v3.5h-3.5zM276.3 685.6h3.5v3.5h-3.5z"/>
<path fill="#0000c0" shape-rendering="crispEdges" d="M279.7 589.8h3.5v3.5h-3.5zM269.4 630.8h3.5v3.5h-3.5z"/>
<path fill="#006cfc" shape-rendering="crispEdges" d="M283.1 589.8h3.5v3.5h-3.5zM262.5 596.6h3.5v3.5h-3.5zM211 600.1h3.5v3.5h-3.5zM266 600.1h3.5v3.5h-3.5zM262.5 603.5h3.5v3.5h-3.5zM211 606.9h3.5v3.5h-3.5zM276.3 606.9h3.5v3.5h-3.5zM211 610.3h3.5v3.5h-3.5zM272.8 610.3h3.5v3.5h-3.5zM269.4 613.7h3.5v3.5h-3.5zM204.2 620.6h3.5v3.5h-3.5zM200.7 624h3.5v3.5h-3.5zM214.5 624h3.5v3.5h-3.5zM190.4 630.8h3.5v3.5h-3.5zM211 630.8h3.5v3.5h-3.5zM266 630.8h3.5v3.5h-3.5zM204.2 634.3h3.5v3.5h-3.5zM272.8 634.3h3.5v3.5h-3.5zM190.4 644.5h3.5v3.5h-3.5zM197.3 644.5h3.5v3.5h-3.5zM193.9 651.4h3.5v3.5h-3.5zM276.3 651.4h3.5v3.5h-3.5zM283.1 651.4h3.5v3.5h-3.5zM214.5 658.2h3.5v3.5h-3.5zM269.4 658.2h3.5v3.5h-3.5zM272.8 668.5h3.5v3.5h-3.5zM200.7 671.9h3.5v3.5h-3.5zM286.6 675.3h3.5v3.5h-3.5zM214.5 682.1h3.5v3.5h-3.5zM276.3 682.1h3.5v3.5h-3.5zM231.6 685.6h3.5v3.5h-3.5zM259.1 685.6h3.5v3.5h-3.5zM272.8 685.6h3.5v3.5h-3.5zM228.2 689h3.5v3.5h-3.5zM252.2 689h3.5v3.5h-3.5z"/>
<path fill="#0018fc" shape-rendering="crispEdges" d="M187 593.2h3.5v3.5h-3.5zM204.2 593.2h3.5v3.5h-3.5zM217.9 596.6h3.5v3.5h-3.5zM266 596.6h3.5v3.5h-3.5zM272.8 596.6h3.5v3.5h-3.5zM200.7 600.1h3.5v3.5h-3.5zM283.1 600.1h3.5v3.5h-3.5zM266 603.5h3.5v3.5h-3.5zM269.4 606.9h3.5v3.5h-3.5zM204.2 613.7h6.9v3.5h-6.9zM283.1 613.7h3.5v3.5h-3.5zM197.3 620.6h3.5v3.5h-3.5zM286.6 620.6h3.5v3.5h-3.5zM193.9 627.4h3.5v3.5h-3.5zM211 627.4h3.5v3.5h-3.5zM200.7 630.8h3.5v3.5h-3.5zM279.7 634.3h3.5v3.5h-3.5zM187 637.7h3.5v3.5h-3.5zM197.3 637.7h3.5v3.5h-3.5zM187 641.1h3.5v3.5h-3.5zM197.3 641.1h6.9v3.5h-6.9zM204.2 644.5h6.9v3.5h-6.9zM200.7 654.8h6.9v3.5h-6.9zM276.3 658.2h3.5v3.5h-3.5zM207.6 661.6h3.5v3.5h-3.5zM279.7 661.6h3.5v3.5h-3.5zM286.6 665h3.5v3.5h-3.5zM187 668.5h3.5v3.5h-3.5zM266 671.9h3.5v3.5h-3.5zM272.8 671.9h3.5v3.5h-3.5zM200.7 678.7h3.5v3.5h-3.5zM204.2 682.1h3.5v3.5h-3.5zM269.4 682.1h3.5v3.5h-3.5zM197.3 685.6h3.5v3.5h-3.5zM190.4 689h10.3v3.5h-10.3zM259.1 689h6.9v3.5h-6.9zM272.8 689h3.5v3.5h-3.5z"/>
<path fill="#0000cc" shape-rendering="crispEdges" d="M200.7 593.2h3.5v3.5h-3.5zM276.3 627.4h3.5v3.5h-3.5zM286.6 661.6h3.5v3.5h-3.5zM269.4 671.9h3.5v3.5h-3.5z"/>
<path fill="#0000fc" shape-rendering="crispEdges" d="M207.6 593.2h3.5v3.5h-3.5zM207.6 596.6h6.9v3.5h-6.9zM269.4 600.1h3.5v3.5h-3.5zM269.4 603.5h3.5v3.5h-3.5zM187 613.7h3.5v3.5h-3.5zM204.2 617.2h3.5v3.5h-3.5zM200.7 637.7h3.5v3.5h-3.5zM190.4 641.1h3.5v3.5h-3.5zM279.7 641.1h3.5v3.5h-3.5zM286.6 641.1h3.5v3.5h-3.5zM272.8 647.9h3.5v3.5h-3.5zM283.1 647.9h3.5v3.5h-3.5zM190.4 658.2h3.5v3.5h-3.5zM204.2 658.2h3.5v3.5h-3.5zM204.2 661.6h3.5v3.5h-3.5zM211 661.6h3.5v3.5h-3.5zM187 665h6.9v3.5h-6.9zM197.3 668.5h3.5v3.5h-3.5zM204.2 671.9h3.5v3.5h-3.5zM197.3 675.3h6.9v3.5h-6.9zM211 678.7h3.5v3.5h-3.5zM262.5 678.7h3.5v3.5h-3.5zM279.7 682.1h3.5v3.5h-3.5zM279.7 685.6h3.5v3.5h-3.5zM279.7 689h6.9v3.5h-6.9z"/>
<path fill="#0084fc" shape-rendering="crispEdges" d="M211 593.2h3.5v3.5h-3.5zM224.8 593.2h3.5v3.5h-3.5zM214.5 603.5h3.5v3.5h-3.5zM207.6 617.2h3.5v3.5h-3.5zM190.4 620.6h3.5v3.5h-3.5zM269.4 624h3.5v3.5h-3.5zM266 641.1h3.5v3.5h-3.5zM283.1 644.5h3.5v3.5h-3.5zM276.3 647.9h3.5v3.5h-3.5zM286.6 658.2h3.5v3.5h-3.5zM286.6 668.5h3.5v3.5h-3.5zM211 671.9h3.5v3.5h-3.5zM224.8 671.9h3.5v3.5h-3.5zM204.2 675.3h3.5v3.5h-3.5zM248.8 682.1h3.5v3.5h-3.5zM248.8 685.6h3.5v3.5h-3.5zM211 689h3.5v3.5h-3.5zM224.8 689h3.5v3.5h-3.5z"/>
<path fill="#009cfc" shape-rendering="crispEdges" d="M214.5 593.2h3.5v3.5h-3.5zM214.5 606.9h3.5v3.5h-3.5zM262.5 606.9h3.5v3.5h-3.5zM276.3 620.6h3.5v3.5h-3.5zM207.6 641.1h3.5v3.5h-3.5zM211 654.8h3.5v3.5h-3.5zM283.1 654.8h3.5v3.5h-3.5zM211 658.2h3.5v3.5h-3.5zM269.4 661.6h3.5v3.5h-3.5zM283.1 661.6h3.5v3.5h-3.5zM262.5 671.9h3.5v3.5h-3.5zM255.7 678.7h3.5v3.5h-3.5zM207.6 685.6h3.5v3.5h-3.5zM252.2 685.6h3.5v3.5h-3.5zM235.1 689h3.5v3.5h-3.5z"/>
<path fill="#00d8fc" shape-rendering="crispEdges" d="M231.6 593.2h3.5v3.5h-3.5zM238.5 593.2h3.5v3.5h-3.5zM217.9 624h3.5v3.5h-3.5zM262.5 634.3h3.5v3.5h-3.5zM262.5 665h3.5v3.5h-3.5zM224.8 675.3h3.5v3.5h-3.5zM228.2 678.7h3.5v3.5h-3.5zM238.5 682.1h3.5v3.5h-3.5zM245.4 682.1h3.5v3.5h-3.5z"/>
<path fill="#60f09c" shape-rendering="crispEdges" d="M241.9 593.2h3.5v3.5h-3.5zM252.2 671.9h3.5v3.5h-3.5z"/>
<path fill="#b4fc48" shape-rendering="crispEdges" d="M245.4 593.2h3.5v3.5h-3.5zM259.1 617.2h3.5v3.5h-3.5zM259.1 654.8h3.5v3.5h-3.5zM255.7 661.6h3.5v3.5h-3.5zM228.2 668.5h3.5v3.5h-3.5zM248.8 671.9h3.5v3.5h-3.5z"/>
<path fill="#0cf0f0" shape-rendering="crispEdges" d="M255.7 593.2h3.5v3.5h-3.5zM217.9 613.7h3.5v3.5h-3.5zM217.9 647.9h3.5v3.5h-3.5zM217.9 651.4h3.5v3.5h-3.5z"/>
<path fill="#0000d8" shape-rendering="crispEdges" d="M190.4 596.6h3.5v3.5h-3.5zM190.4 606.9h3.5v3.5h-3.5zM204.2 610.3h3.5v3.5h-3.5zM190.4 617.2h3.5v3.5h-3.5zM190.4 647.9h3.5v3.5h-3.5zM197.3 647.9h3.5v3.5h-3.5zM200.7 651.4h3.5v3.5h-3.5zM193.9 658.2h6.9v3.5h-6.9zM187 671.9h3.5v3.5h-3.5zM193.9 671.9h3.5v3.5h-3.5zM283.1 685.6h3.5v3.5h-3.5z"/>
<path fill="#18f0e4" shape-rendering="crispEdges" d="M228.2 596.6h3.5v3.5h-3.5zM224.8 600.1h3.5v3.5h-3.5zM262.5 624h3.5v3.5h-3.5zM262.5 651.4h3.5v3.5h-3.5zM262.5 658.2h3.5v3.5h-3.5zM228.2 675.3h3.5v3.5h-3.5zM235.1 678.7h3.5v3.5h-3.5z"/>
<path fill="#a8fc60" shape-rendering="crispEdges" d="M231.6 596.6h3.5v3.5h-3.5zM221.3 620.6h3.5v3.5h-3.5zM221.3 634.3h3.5v3.5h-3.5zM259.1 641.1h3.5v3.5h-3.5z"/>
<path fill="#d8fc24" shape-rendering="crispEdges" d="M235.1 596.6h3.5v3.5h-3.5zM252.2 606.9h3.5v3.5h-3.5zM221.3 630.8h3.5v3.5h-3.5zM259.1 630.8h3.5v3.5h-3.5zM259.1 634.3h3.5v3.5h-3.5zM241.9 671.9h3.5v3.5h-3.5z"/>
<path fill="#9cfc60" shape-rendering="crispEdges" d="M238.5 596.6h3.5v3.5h-3.5zM245.4 596.6h3.5v3.5h-3.5zM224.8 610.3h3.5v3.5h-3.5zM221.3 644.5h3.5v3.5h-3.5z"/>
<path fill="#a8fc54" shape-rendering="crispEdges" d="M241.9 596.6h3.5v3.5h-3.5zM259.1 651.4h3.5v3.5h-3.5zM238.5 675.3h3.5v3.5h-3.5z"/>
<path fill="#54f0a8" shape-rendering="crispEdges" d="M248.8 596.6h3.5v3.5h-3.5zM255.7 606.9h3.5v3.5h-3.5zM259.1 613.7h3.5v3.5h-3.5zM217.9 620.6h3.5v3.5h-3.5zM224.8 668.5h3.5v3.5h-3.5z"/>
<path fill="#6cf090" shape-rendering="crispEdges" d="M228.2 600.1h3.5v3.5h-3.5zM262.5 637.7h3.5v3.5h-3.5zM221.3 658.2h3.5v3.5h-3.5zM241.9 678.7h3.5v3.5h-3.5z"/>
<path fill="#84fc84" shape-rendering="crispEdges" d="M231.6 600.1h3.5v3.5h-3.5zM224.8 665h3.5v3.5h-3.5zM245.4 675.3h3.5v3.5h-3.5z"/>
<path fill="#e4fc18" shape-rendering="crispEdges" d="M235.1 600.1h6.9v3.5h-6.9zM259.1 624h3.5v3.5h-3.5zM228.2 665h3.5v3.5h-3.5z"/>
<path fill="#fce400" shape-rendering="crispEdges" d="M241.9 600.1h3.5v3.5h-3.5zM248.8 606.9h3.5v3.5h-3.5zM259.1 627.4h3.5v3.5h-3.5zM224.8 651.4h3.5v3.5h-3.5zM255.7 654.8h3.5v3.5h-3.5zM252.2 661.6h3.5v3.5h-3.5z"/>
<path fill="#e4fc24" shape-rendering="crispEdges" d="M245.4 600.1h3.5v3.5h-3.5z"/>
<path fill="#d8fc30" shape-rendering="crispEdges" d="M248.8 600.1h3.5v3.5h-3.5z"/>
<path fill="#48f0b4" shape-rendering="crispEdges" d="M252.2 600.1h3.5v3.5h-3.5zM221.3 610.3h3.5v3.5h-3.5z"/>
<path fill="#00f0fc" shape-rendering="crispEdges" d="M255.7 600.1h3.5v3.5h-3.5zM259.1 603.5h3.5v3.5h-3.5zM217.9 610.3h3.5v3.5h-3.5zM217.9 641.1h3.5v3.5h-3.5zM262.5 654.8h3.5v3.5h-3.5zM217.9 661.6h3.5v3.5h-3.5zM252.2 678.7h3.5v3.5h-3.5z"/>
<path fill="#00c0fc" shape-rendering="crispEdges" d="M259.1 600.1h3.5v3.5h-3.5zM217.9 637.7h3.5v3.5h-3.5zM266 654.8h3.5v3.5h-3.5zM221.3 665h3.5v3.5h-3.5zM221.3 668.5h3.5v3.5h-3.5zM262.5 668.5h3.5v3.5h-3.5zM252.2 675.3h3.5v3.5h-3.5zM224.8 678.7h3.5v3.5h-3.5zM235.1 682.1h3.5v3.5h-3.5zM228.2 685.6h3.5v3.5h-3.5zM255.7 685.6h3.5v3.5h-3.5zM286.6 689h3.5v3.5h-3.5z"/>
<path fill="#30f0d8" shape-rendering="crispEdges" d="M224.8 603.5h3.5v3.5h-3.5zM238.5 678.7h3.5v3.5h-3.5z"/>
<path fill="#90fc6c" shape-rendering="crispEdges" d="M228.2 603.5h3.5v3.5h-3.5zM224.8 606.9h3.5v3.5h-3.5zM255.7 610.3h3.5v3.5h-3.5zM221.3 641.1h3.5v3.5h-3.5zM221.3 647.9h3.5v3.5h-3.5zM259.1 658.2h3.5v3.5h-3.5z"/>
<path fill="#f0fc0c" shape-rendering="crispEdges" d="M231.6 603.5h3.5v3.5h-3.5zM255.7 613.7h3.5v3.5h-3.5zM252.2 665h3.5v3.5h-3.5zM248.8 668.5h3.5v3.5h-3.5z"/>
<path fill="#fcf000" shape-rendering="crispEdges" d="M235.1 603.5h6.9v3.5h-6.9zM228.2 606.9h6.9v3.5h-6.9zM224.8 613.7h3.5v3.5h-3.5zM224.8 617.2h3.5v3.5h-3.5z"/>
<path fill="#fcb400" shape-rendering="crispEdges" d="M241.9 603.5h3.5v3.5h-3.5zM224.8 627.4h3.5v3.5h-3.5zM224.8 637.7h3.5v3.5h-3.5zM228.2 658.2h3.5v3.5h-3.5zM245.4 665h3.5v3.5h-3.5zM238.5 668.5h3.5v3.5h-3.5zM245.4 668.5h3.5v3.5h-3.5z"/>
<path fill="#fcfc00" shape-rendering="crispEdges" d="M245.4 603.5h3.5v3.5h-3.5zM224.8 620.6h3.5v3.5h-3.5zM221.3 627.4h3.5v3.5h-3.5zM224.8 654.8h3.5v3.5h-3.5zM224.8 658.2h3.5v3.5h-3.5zM228.2 661.6h3.5v3.5h-3.5zM238.5 671.9h3.5v3.5h-3.5z"/>
<path fill="#c0fc3c" shape-rendering="crispEdges" d="M248.8 603.5h3.5v3.5h-3.5zM259.1 620.6h3.5v3.5h-3.5zM224.8 661.6h3.5v3.5h-3.5zM252.2 668.5h3.5v3.5h-3.5zM241.9 675.3h3.5v3.5h-3.5z"/>
<path fill="#b4fc54" shape-rendering="crispEdges" d="M252.2 603.5h3.5v3.5h-3.5zM259.1 637.7h3.5v3.5h-3.5z"/>
<path fill="#24f0d8" shape-rendering="crispEdges" d="M255.7 603.5h3.5v3.5h-3.5zM262.5 613.7h3.5v3.5h-3.5zM262.5 630.8h3.5v3.5h-3.5zM255.7 668.5h3.5v3.5h-3.5zM248.8 675.3h3.5v3.5h-3.5zM241.9 682.1h3.5v3.5h-3.5z"/>
<path fill="#fc8400" shape-rendering="crispEdges" d="M235.1 606.9h3.5v3.5h-3.5zM241.9 606.9h6.9v3.5h-6.9zM228.2 617.2h3.5v3.5h-3.5zM228.2 620.6h3.5v3.5h-3.5zM255.7 624h3.5v3.5h-3.5zM255.7 634.3h3.5v3.5h-3.5zM255.7 644.5h3.5v3.5h-3.5z"/>
<path fill="#fc6000" shape-rendering="crispEdges" d="M238.5 606.9h3.5v3.5h-3.5zM231.6 613.7h3.5v3.5h-3.5zM252.2 617.2h3.5v3.5h-3.5zM228.2 627.4h3.5v3.5h-3.5zM228.2 634.3h3.5v3.5h-3.5zM228.2 647.9h3.5v3.5h-3.5zM228.2 651.4h3.5v3.5h-3.5zM235.1 661.6h3.5v3.5h-3.5z"/>
<path fill="#fcc000" shape-rendering="crispEdges" d="M228.2 610.3h3.5v3.5h-3.5zM255.7 617.2h3.5v3.5h-3.5zM224.8 624h3.5v3.5h-3.5zM255.7 637.7h3.5v3.5h-3.5zM235.1 668.5h3.5v3.5h-3.5z"/>
<path fill="#fca800" shape-rendering="crispEdges" d="M231.6 610.3h3.5v3.5h-3.5zM228.2 613.7h3.5v3.5h-3.5zM255.7 620.6h3.5v3.5h-3.5zM255.7 641.1h3.5v3.5h-3.5zM224.8 644.5h3.5v3.5h-3.5zM255.7 651.4h3.5v3.5h-3.5zM231.6 661.6h3.5v3.5h-3.5zM238.5 665h3.5v3.5h-3.5z"/>
<path fill="#fc9000" shape-rendering="crispEdges" d="M235.1 610.3h3.5v3.5h-3.5zM252.2 613.7h3.5v3.5h-3.5zM224.8 647.9h3.5v3.5h-3.5z"/>
<path fill="#fc0c00" shape-rendering="crispEdges" d="M238.5 610.3h3.5v3.5h-3.5zM235.1 627.4h3.5v3.5h-3.5zM238.5 630.8h6.9v3.5h-6.9z"/>
<path fill="#fc6c00" shape-rendering="crispEdges" d="M241.9 610.3h3.5v3.5h-3.5zM248.8 610.3h3.5v3.5h-3.5zM228.2 641.1h3.5v3.5h-3.5zM252.2 654.8h3.5v3.5h-3.5z"/>
<path fill="#fc3c00" shape-rendering="crispEdges" d="M245.4 610.3h3.5v3.5h-3.5zM252.2 620.6h3.5v3.5h-3.5zM252.2 634.3h3.5v3.5h-3.5zM252.2 644.5h3.5v3.5h-3.5zM252.2 647.9h3.5v3.5h-3.5zM231.6 658.2h3.5v3.5h-3.5z"/>
<path fill="#fccc00" shape-rendering="crispEdges" d="M252.2 610.3h3.5v3.5h-3.5zM224.8 630.8h3.5v3.5h-3.5zM224.8 641.1h3.5v3.5h-3.5zM231.6 665h3.5v3.5h-3.5zM248.8 665h3.5v3.5h-3.5zM241.9 668.5h3.5v3.5h-3.5z"/>
<path fill="#78fc84" shape-rendering="crispEdges" d="M259.1 610.3h3.5v3.5h-3.5zM262.5 620.6h3.5v3.5h-3.5zM221.3 637.7h3.5v3.5h-3.5zM228.2 671.9h3.5v3.5h-3.5z"/>
<path fill="#6cfc90" shape-rendering="crispEdges" d="M221.3 613.7h3.5v3.5h-3.5z"/>
<path fill="#fc4800" shape-rendering="crispEdges" d="M235.1 613.7h3.5v3.5h-3.5zM252.2 627.4h6.9v3.5h-6.9zM228.2 637.7h3.5v3.5h-3.5zM252.2 637.7h3.5v3.5h-3.5zM252.2 641.1h3.5v3.5h-3.5zM228.2 654.8h3.5v3.5h-3.5zM248.8 658.2h3.5v3.5h-3.5z"/>
<path fill="#fc0000" shape-rendering="crispEdges" d="M238.5 613.7h3.5v3.5h-3.5zM235.1 617.2h3.5v3.5h-3.5zM231.6 624h6.9v3.5h-6.9zM248.8 630.8h3.5v3.5h-3.5zM231.6 634.3h3.5v3.5h-3.5zM245.4 634.3h3.5v3.5h-3.5zM231.6 637.7h3.5v3.5h-3.5zM238.5 637.7h3.5v3.5h-3.5zM248.8 637.7h3.5v3.5h-3.5zM245.4 641.1h6.9v3.5h-6.9zM245.4 647.9h6.9v3.5h-6.9zM235.1 651.4h3.5v3.5h-3.5zM248.8 654.8h3.5v3.5h-3.5zM241.9 658.2h3.5v3.5h-3.5z"/>
<path fill="#e40000" shape-rendering="crispEdges" d="M241.9 613.7h3.5v3.5h-3.5zM235.1 620.6h3.5v3.5h-3.5zM245.4 620.6h3.5v3.5h-3.5zM238.5 624h3.5v3.5h-3.5zM235.1 637.7h3.5v3.5h-3.5zM241.9 637.7h6.9v3.5h-6.9zM235.1 641.1h3.5v3.5h-3.5zM235.1 647.9h3.5v3.5h-3.5z"/>
<path fill="#fc2400" shape-rendering="crispEdges" d="M245.4 613.7h3.5v3.5h-3.5zM248.8 617.2h3.5v3.5h-3.5zM231.6 620.6h3.5v3.5h-3.5zM228.2 624h3.5v3.5h-3.5zM252.2 630.8h3.5v3.5h-3.5zM231.6 641.1h3.5v3.5h-3.5zM248.8 644.5h3.5v3.5h-3.5zM231.6 647.9h3.5v3.5h-3.5zM238.5 661.6h3.5v3.5h-3.5z"/>
<path fill="#fc5400" shape-rendering="crispEdges" d="M248.8 613.7h3.5v3.5h-3.5zM252.2 651.4h3.5v3.5h-3.5zM245.4 661.6h3.5v3.5h-3.5z"/>
<path fill="#90fc78" shape-rendering="crispEdges" d="M221.3 617.2h3.5v3.5h-3.5zM259.1 644.5h3.5v3.5h-3.5z"/>
<path fill="#fc3000" shape-rendering="crispEdges" d="M231.6 617.2h3.5v3.5h-3.5zM248.8 620.6h3.5v3.5h-3.5zM252.2 624h3.5v3.5h-3.5zM228.2 630.8h3.5v3.5h-3.5zM228.2 644.5h3.5v3.5h-3.5zM231.6 651.4h3.5v3.5h-3.5zM248.8 651.4h3.5v3.5h-3.5zM235.1 658.2h3.5v3.5h-3.5zM241.9 661.6h3.5v3.5h-3.5z"/>
<path fill="#c00000" shape-rendering="crispEdges" d="M238.5 617.2h3.5v3.5h-3.5zM238.5 647.9h6.9v3.5h-6.9zM238.5 651.4h6.9v3.5h-6.9zM238.5 654.8h3.5v3.5h-3.5z"/>
<path fill="#cc0000" shape-rendering="crispEdges" d="M241.9 617.2h3.5v3.5h-3.5zM238.5 620.6h3.5v3.5h-3.5zM241.9 634.3h3.5v3.5h-3.5z"/>
<path fill="#f00000" shape-rendering="crispEdges" d="M245.4 617.2h3.5v3.5h-3.5zM245.4 624h3.5v3.5h-3.5zM238.5 627.4h3.5v3.5h-3.5zM235.1 630.8h3.5v3.5h-3.5zM235.1 634.3h3.5v3.5h-3.5zM248.8 634.3h3.5v3.5h-3.5zM241.9 641.1h3.5v3.5h-3.5zM245.4 644.5h3.5v3.5h-3.5z"/>
<path fill="#a80000" shape-rendering="crispEdges" d="M241.9 620.6h3.5v3.5h-3.5z"/>
<path fill="#c0fc48" shape-rendering="crispEdges" d="M221.3 624h3.5v3.5h-3.5zM221.3 651.4h3.5v3.5h-3.5zM231.6 668.5h3.5v3.5h-3.5z"/>
<path fill="#900000" shape-rendering="crispEdges" d="M241.9 624h3.5v3.5h-3.5z"/>
<path fill="#fc1800" shape-rendering="crispEdges" d="M248.8 624h3.5v3.5h-3.5zM231.6 627.4h3.5v3.5h-3.5zM238.5 634.3h3.5v3.5h-3.5zM231.6 644.5h6.9v3.5h-6.9zM245.4 651.4h3.5v3.5h-3.5zM231.6 654.8h3.5v3.5h-3.5zM245.4 658.2h3.5v3.5h-3.5z"/>
<path fill="#30f0cc" shape-rendering="crispEdges" d="M217.9 627.4h3.5v3.5h-3.5zM262.5 644.5h3.5v3.5h-3.5zM245.4 678.7h3.5v3.5h-3.5z"/>
<path fill="#d80000" shape-rendering="crispEdges" d="M241.9 627.4h10.3v3.5h-10.3zM231.6 630.8h3.5v3.5h-3.5zM245.4 630.8h3.5v3.5h-3.5zM238.5 641.1h3.5v3.5h-3.5zM238.5 644.5h6.9v3.5h-6.9zM235.1 654.8h3.5v3.5h-3.5zM241.9 654.8h6.9v3.5h-6.9zM238.5 658.2h3.5v3.5h-3.5z"/>
<path fill="#3cf0c0" shape-rendering="crispEdges" d="M262.5 627.4h3.5v3.5h-3.5zM217.9 634.3h3.5v3.5h-3.5zM217.9 658.2h3.5v3.5h-3.5zM221.3 661.6h3.5v3.5h-3.5z"/>
<path fill="#fc7800" shape-rendering="crispEdges" d="M255.7 630.8h3.5v3.5h-3.5zM248.8 661.6h3.5v3.5h-3.5zM241.9 665h3.5v3.5h-3.5z"/>
<path fill="#fc9c00" shape-rendering="crispEdges" d="M224.8 634.3h3.5v3.5h-3.5zM255.7 647.9h3.5v3.5h-3.5zM252.2 658.2h3.5v3.5h-3.5zM235.1 665h3.5v3.5h-3.5z"/>
<path fill="#0000b4" shape-rendering="crispEdges" d="M286.6 634.3h3.5v3.5h-3.5zM211 641.1h3.5v3.5h-3.5z"/>
<path fill="#0000a8" shape-rendering="crispEdges" d="M286.6 637.7h3.5v3.5h-3.5zM272.8 665h3.5v3.5h-3.5z"/>
<path fill="#18f0f0" shape-rendering="crispEdges" d="M217.9 644.5h3.5v3.5h-3.5zM255.7 671.9h3.5v3.5h-3.5z"/>
<path fill="#ccfc30" shape-rendering="crispEdges" d="M259.1 647.9h3.5v3.5h-3.5z"/>
<path fill="#84fc78" shape-rendering="crispEdges" d="M221.3 654.8h3.5v3.5h-3.5zM259.1 661.6h3.5v3.5h-3.5zM231.6 671.9h3.5v3.5h-3.5z"/>
<path fill="#f0fc18" shape-rendering="crispEdges" d="M255.7 658.2h3.5v3.5h-3.5zM235.1 671.9h3.5v3.5h-3.5z"/>
<path fill="#60f0a8" shape-rendering="crispEdges" d="M255.7 665h3.5v3.5h-3.5zM231.6 675.3h3.5v3.5h-3.5z"/>
<path fill="#ccfc3c" shape-rendering="crispEdges" d="M245.4 671.9h3.5v3.5h-3.5z"/>
<path fill="#54f0b4" shape-rendering="crispEdges" d="M235.1 675.3h3.5v3.5h-3.5z"/>
<path fill="#fff" d="M199.4 599.8L204 608.8L200.8 608.8L200.8 644L198 644L198 608.8L194.8 608.8z"/>
<text x="193.5" y="679" font-size="19.5" font-weight="bold" font-style="italic" fill="#fff">Z</text>
<path d="M303.9 700.6 L303.9 632.4 L304.1 669.4 L304.3 677.3 L304.5 681.2 L304.7 683.6 L304.9 685.3 L305.1 686.5 L305.2 687.5 L305.4 688.4 L305.6 689 L305.8 689.6 L306 690.1 L306.2 690.5 L306.4 690.9 L306.5 691.3 L306.7 691.6 L306.9 691.8 L307.1 692.1 L307.3 692.3 L307.5 692.5 L307.7 692.7 L307.9 692.9 L308 693.1 L308.2 693.3 L308.4 693.4 L308.6 693.5 L308.8 693.7 L309 693.8 L309.2 693.9 L309.3 694 L309.5 694.1 L309.7 694.2 L309.9 694.3 L310.1 694.4 L310.3 694.5 L310.5 694.6 L310.6 694.7 L310.8 694.8 L311 694.8 L311.2 694.9 L311.4 695 L311.6 695 L311.8 695.1 L311.9 695.2 L312.1 695.2 L312.3 695.3 L312.5 695.3 L312.7 695.4 L312.9 695.4 L313.1 695.5 L313.2 695.5 L313.4 695.6 L313.6 695.6 L313.8 695.7 L314 695.7 L314.2 695.8 L314.4 695.8 L314.5 695.8 L314.7 695.9 L314.9 695.9 L315.1 696 L315.3 696 L315.5 696 L315.7 696.1 L315.9 696.1 L316 696.1 L316.2 696.2 L316.4 696.2 L316.6 696.2 L316.8 696.2 L317 696.3 L317.2 696.3 L317.3 696.3 L317.5 696.4 L317.7 696.4 L317.9 696.4 L318.1 696.4 L318.3 696.5 L318.5 696.5 L318.6 696.5 L318.6 696.5 L320.4 696.7 L322.2 696.9 L324 697 L325.8 697.2 L327.6 697.3 L329.4 697.4 L331.2 697.5 L332.9 697.6 L334.7 697.6 L336.5 697.7 L338.3 697.8 L340.1 697.8 L341.9 697.9 L343.7 697.9 L345.5 698 L347.3 698 L349 698.1 L350.8 698.1 L352.6 698.1 L354.4 698.2 L356.2 698.2 L358 698.2 L359.8 698.2 L361.6 698.3 L363.3 698.3 L365.1 698.3 L366.9 698.3 L368.7 698.3 L370.5 698.3 L372.3 698.4 L374.1 698.4 L375.9 698.4 L377.6 698.4 L379.4 698.4 L381.2 698.4 L383 698.4 L384.8 698.4 L386.6 698.5 L388.4 698.5 L390.2 698.5 L392 698.5 L393.7 698.5 L395.5 698.5 L397.3 698.5 L399.1 698.5 L400.9 698.5 L402.7 698.5 L404.5 698.5 L406.3 698.5 L408 698.5 L409.8 698.5 L411.6 698.5 L413.4 698.5 L415.2 698.5 L417 698.5 L418.8 698.5 L420.6 698.5 L422.3 698.5 L424.1 698.5 L425.9 698.5 L427.7 698.5 L429.5 698.4 L431.3 698.4 L433.1 698.4 L434.9 698.4 L436.7 698.4 L438.4 698.4 L440.2 698.4 L442 698.4 L443.8 698.3 L445.6 698.3 L447.4 698.3 L449.2 698.3 L451 698.3 L452.7 698.3 L454.5 698.2 L456.3 698.2 L458.1 698.2 L459.9 698.2 L461.7 698.1 L463.5 698.1 L465.3 698.1 L467 698 L468.8 698 L470.6 697.9 L472.4 697.9 L474.2 697.8 L476 697.8 L477.8 697.7 L479.6 697.6 L481.4 697.6 L483.1 697.5 L484.9 697.4 L486.7 697.3 L488.5 697.2 L490.3 697 L492.1 696.9 L493.9 696.7 L495.7 696.5 L495.7 696.5 L495.8 696.5 L496 696.5 L496.2 696.4 L496.4 696.4 L496.6 696.4 L496.8 696.4 L497 696.3 L497.1 696.3 L497.3 696.3 L497.5 696.2 L497.7 696.2 L497.9 696.2 L498.1 696.2 L498.3 696.1 L498.4 696.1 L498.6 696.1 L498.8 696 L499 696 L499.2 696 L499.4 695.9 L499.6 695.9 L499.8 695.8 L499.9 695.8 L500.1 695.8 L500.3 695.7 L500.5 695.7 L500.7 695.6 L500.9 695.6 L501.1 695.5 L501.2 695.5 L501.4 695.4 L501.6 695.4 L501.8 695.3 L502 695.3 L502.2 695.2 L502.4 695.2 L502.5 695.1 L502.7 695 L502.9 695 L503.1 694.9 L503.3 694.8 L503.5 694.8 L503.7 694.7 L503.8 694.6 L504 694.5 L504.2 694.4 L504.4 694.3 L504.6 694.2 L504.8 694.1 L505 694 L505.1 693.9 L505.3 693.8 L505.5 693.7 L505.7 693.5 L505.9 693.4 L506.1 693.3 L506.3 693.1 L506.4 692.9 L506.6 692.7 L506.8 692.5 L507 692.3 L507.2 692.1 L507.4 691.8 L507.6 691.6 L507.8 691.3 L507.9 690.9 L508.1 690.5 L508.3 690.1 L508.5 689.6 L508.7 689 L508.9 688.4 L509.1 687.5 L509.2 686.5 L509.4 685.3 L509.6 683.6 L509.8 681.2 L510 677.3 L510.2 669.4 L510.4 632.4 L510.4 700.6z" fill="#9a9af0"/>
<path d="M303.9 700.6 L303.9 561.7 L303.9 632.4 L304.1 669.4 L304.3 677.3 L304.5 681.2 L304.7 683.6 L304.9 685.3 L305.1 686.5 L305.2 687.5 L305.4 688.4 L305.6 689 L305.8 689.6 L306 690.1 L306.2 690.5 L306.4 690.9 L306.5 691.3 L306.7 691.6 L306.9 691.8 L307.1 692.1 L307.3 692.3 L307.5 692.5 L307.7 692.7 L307.9 692.9 L308 693.1 L308.2 693.3 L308.4 693.4 L308.6 693.5 L308.8 693.7 L309 693.8 L309.2 693.9 L309.3 694 L309.5 694.1 L309.7 694.2 L309.9 694.3 L310.1 694.4 L310.3 694.5 L310.5 694.6 L310.6 694.7 L310.8 694.8 L311 694.8 L311.2 694.9 L311.4 695 L311.6 695 L311.8 695.1 L311.9 695.2 L312.1 695.2 L312.3 695.3 L312.5 695.3 L312.7 695.4 L312.9 695.4 L313.1 695.5 L313.2 695.5 L313.4 695.6 L313.6 695.6 L313.8 695.7 L314 695.7 L314.2 695.8 L314.4 695.8 L314.5 695.8 L314.7 695.9 L314.9 695.9 L315.1 696 L315.3 696 L315.5 696 L315.7 696.1 L315.9 696.1 L316 696.1 L316.2 696.2 L316.4 696.2 L316.6 696.2 L316.8 696.2 L317 696.3 L317.2 696.3 L317.3 696.3 L317.5 696.4 L317.7 696.4 L317.9 696.4 L318.1 696.4 L318.3 696.5 L318.5 696.5 L318.6 696.5 L318.6 696.5 L320.4 696.7 L322.2 696.9 L324 697 L325.8 697.2 L327.6 697.3 L329.4 697.4 L331.2 697.5 L332.9 697.6 L334.7 697.6 L336.5 697.7 L338.3 697.8 L340.1 697.8 L341.9 697.9 L343.7 697.9 L345.5 698 L347.3 698 L349 698.1 L350.8 698.1 L352.6 698.1 L354.4 698.2 L356.2 698.2 L358 698.2 L359.8 698.2 L361.6 698.3 L363.3 698.3 L365.1 698.3 L366.9 698.3 L368.7 698.3 L370.5 698.3 L372.3 698.4 L374.1 698.4 L375.9 698.4 L377.6 698.4 L379.4 698.4 L381.2 698.4 L383 698.4 L384.8 698.4 L386.6 698.5 L388.4 698.5 L390.2 698.5 L392 698.5 L393.7 698.5 L395.5 698.5 L397.3 698.5 L399.1 698.5 L400.9 698.5 L402.7 698.5 L404.5 698.5 L406.3 698.5 L408 698.5 L409.8 698.5 L411.6 698.5 L413.4 698.5 L415.2 698.5 L417 698.5 L418.8 698.5 L420.6 698.5 L422.3 698.5 L424.1 698.5 L425.9 698.5 L427.7 698.5 L429.5 698.4 L431.3 698.4 L433.1 698.4 L434.9 698.4 L436.7 698.4 L438.4 698.4 L440.2 698.4 L442 698.4 L443.8 698.3 L445.6 698.3 L447.4 698.3 L449.2 698.3 L451 698.3 L452.7 698.3 L454.5 698.2 L456.3 698.2 L458.1 698.2 L459.9 698.2 L461.7 698.1 L463.5 698.1 L465.3 698.1 L467 698 L468.8 698 L470.6 697.9 L472.4 697.9 L474.2 697.8 L476 697.8 L477.8 697.7 L479.6 697.6 L481.4 697.6 L483.1 697.5 L484.9 697.4 L486.7 697.3 L488.5 697.2 L490.3 697 L492.1 696.9 L493.9 696.7 L495.7 696.5 L495.7 696.5 L495.8 696.5 L496 696.5 L496.2 696.4 L496.4 696.4 L496.6 696.4 L496.8 696.4 L497 696.3 L497.1 696.3 L497.3 696.3 L497.5 696.2 L497.7 696.2 L497.9 696.2 L498.1 696.2 L498.3 696.1 L498.4 696.1 L498.6 696.1 L498.8 696 L499 696 L499.2 696 L499.4 695.9 L499.6 695.9 L499.8 695.8 L499.9 695.8 L500.1 695.8 L500.3 695.7 L500.5 695.7 L500.7 695.6 L500.9 695.6 L501.1 695.5 L501.2 695.5 L501.4 695.4 L501.6 695.4 L501.8 695.3 L502 695.3 L502.2 695.2 L502.4 695.2 L502.5 695.1 L502.7 695 L502.9 695 L503.1 694.9 L503.3 694.8 L503.5 694.8 L503.7 694.7 L503.8 694.6 L504 694.5 L504.2 694.4 L504.4 694.3 L504.6 694.2 L504.8 694.1 L505 694 L505.1 693.9 L505.3 693.8 L505.5 693.7 L505.7 693.5 L505.9 693.4 L506.1 693.3 L506.3 693.1 L506.4 692.9 L506.6 692.7 L506.8 692.5 L507 692.3 L507.2 692.1 L507.4 691.8 L507.6 691.6 L507.8 691.3 L507.9 690.9 L508.1 690.5 L508.3 690.1 L508.5 689.6 L508.7 689 L508.9 688.4 L509.1 687.5 L509.2 686.5 L509.4 685.3 L509.6 683.6 L509.8 681.2 L510 677.3 L510.2 669.4 L510.4 632.4 L510.4 561.7 L510.4 700.6" fill="none" stroke="#1414c8" stroke-width="2.2"/>
<path fill="#a6dcae" d="M582.4 573.9L612.8 604.4L598 604.4L598 661.5L612.8 661.5L582.4 691.3L551.9 661.5L567.4 661.5L567.4 604.4L551.9 604.4z"/>
<text x="315.5" y="598" font-size="26.5" text-anchor="start" font-weight="normal" font-style="normal" fill="#1a1ac8">ρ<tspan font-size="18.5" dy="7">z,max</tspan><tspan dy="-7"> = 21 </tspan><tspan dx="6" font-size="31">μm</tspan></text>
<rect x="161.3" y="561.7" width="491.7" height="138.9" fill="none" stroke="#333" stroke-width="1.4"/>
<path stroke="#333" stroke-width="1.3" fill="none" d="M161.3 700.6L164.3 700.6M653 700.6L650 700.6M161.3 665.9L164.3 665.9M653 665.9L650 665.9M161.3 631.2L164.3 631.2M653 631.2L650 631.2M161.3 596.4L164.3 596.4M653 596.4L650 596.4M161.3 561.7L164.3 561.7M653 561.7L650 561.7M161.3 561.7L161.3 565.2M210.5 561.7L210.5 565.2M259.6 561.7L259.6 565.2M308.8 561.7L308.8 565.2M358 561.7L358 565.2M407.1 561.7L407.1 565.2M456.3 561.7L456.3 565.2M505.5 561.7L505.5 565.2M554.7 561.7L554.7 565.2M603.8 561.7L603.8 565.2M653 561.7L653 565.2"/>
<text x="156" y="706.3" font-size="16" text-anchor="end" font-weight="normal" font-style="normal" fill="#000">0.0</text>
<text x="156" y="636.9" font-size="16" text-anchor="end" font-weight="normal" font-style="normal" fill="#000">0.5</text>
<text x="156" y="567.4" font-size="16" text-anchor="end" font-weight="normal" font-style="normal" fill="#000">1.0</text>
<text x="0" y="0" font-size="34" text-anchor="middle" font-weight="normal" font-style="normal" fill="#000" transform="translate(95 646) rotate(-90)"><tspan font-style="italic">P</tspan>(ρ<tspan font-size="22" dy="11">z</tspan><tspan dy="-11">)</tspan></text>
<g clip-path="url(#clipB)"><path d="M176.1 1008.7V1067M210 1033.7V1063.7M264.6 992.4V1023.4M276.4 880.1V1003.7M286.7 887.1V940.4M299 787.2V833.8M310.3 710.6V791.9M321.1 729.6V773.9M332.4 726.6V755.9M344.2 733.9V797.9M355 864.1V916.1M366.3 733.9V913.1M377.2 770.5V844.8M388 834.5V861.5M399.8 813.9V908.8M411.1 824.5V913.1M421.4 787.2V818.5M432.7 783.2V929.4M444 704.6V862.8M454.8 763.6V861.5M466.2 710.9V865.8M477.5 735.6V859.8M489.3 700.6V779.9M500.1 800.5V870.5M511.4 868.8V908.8M523.2 839.2V889.5M533.5 908.8V990.4M545.3 897.1V1038.4M556.1 981.4V1022.4M567.4 1022.4V1051.3M578.3 1027V1064.3M589.6 1034.4V1064.3M601.4 1038.7V1064.3M612.2 1022.4V1061.7M623.5 1011V1041M646.1 976.1V1046" stroke="#d6d6d6" stroke-width="1.1" fill="none"/>
<path d="M163.8 1074.4 L176.1 1034.7 L186.9 1074.4 L210 1057.7 L221.3 1064 L242.9 1062 L254.7 1039.1 L264.6 1009.4 L276.4 942.1 L286.7 913.8 L299 828.2 L310.3 752.6 L321.1 752.6 L332.4 755.6 L344.2 791.2 L355 863.8 L366.3 824.2 L377.2 809.6 L388 849.5 L399.8 861.8 L411.1 869.8 L421.4 817.9 L432.7 856.5 L444 783.2 L454.8 812.6 L466.2 789.9 L477.5 797.9 L489.3 734.6 L500.1 802.2 L511.4 876.5 L523.2 879.8 L533.5 938.5 L545.3 968.4 L556.1 1004.1 L567.4 1037.7 L578.3 1058.4 L589.6 1051.4 L601.4 1058.4 L612.2 1054 L623.5 1028.1 L634.3 1074.4 L646.1 1035.1 L655.5 1074.4" fill="none" stroke="#9a9a9a" stroke-width="1.3" stroke-linejoin="round"/>
<circle cx="176.1" cy="1034.7" r="6.4" fill="#888" fill-opacity="0.78"/><circle cx="210" cy="1057.7" r="6.4" fill="#888" fill-opacity="0.78"/><circle cx="221.3" cy="1064" r="6.4" fill="#888" fill-opacity="0.78"/><circle cx="242.9" cy="1062" r="6.4" fill="#888" fill-opacity="0.78"/><circle cx="254.7" cy="1039.1" r="6.4" fill="#888" fill-opacity="0.78"/><circle cx="264.6" cy="1009.4" r="6.4" fill="#888" fill-opacity="0.78"/><circle cx="276.4" cy="942.1" r="6.4" fill="#888" fill-opacity="0.78"/><circle cx="286.7" cy="913.8" r="6.4" fill="#888" fill-opacity="0.78"/><circle cx="299" cy="828.2" r="6.4" fill="#888" fill-opacity="0.78"/><circle cx="310.3" cy="752.6" r="6.4" fill="#888" fill-opacity="0.78"/><circle cx="321.1" cy="752.6" r="6.4" fill="#888" fill-opacity="0.78"/><circle cx="332.4" cy="755.6" r="6.4" fill="#888" fill-opacity="0.78"/><circle cx="344.2" cy="791.2" r="6.4" fill="#888" fill-opacity="0.78"/><circle cx="355" cy="863.8" r="6.4" fill="#888" fill-opacity="0.78"/><circle cx="366.3" cy="824.2" r="6.4" fill="#888" fill-opacity="0.78"/><circle cx="377.2" cy="809.6" r="6.4" fill="#888" fill-opacity="0.78"/><circle cx="388" cy="849.5" r="6.4" fill="#888" fill-opacity="0.78"/><circle cx="399.8" cy="861.8" r="6.4" fill="#888" fill-opacity="0.78"/><circle cx="411.1" cy="869.8" r="6.4" fill="#888" fill-opacity="0.78"/><circle cx="421.4" cy="817.9" r="6.4" fill="#888" fill-opacity="0.78"/><circle cx="432.7" cy="856.5" r="6.4" fill="#888" fill-opacity="0.78"/><circle cx="444" cy="783.2" r="6.4" fill="#888" fill-opacity="0.78"/><circle cx="454.8" cy="812.6" r="6.4" fill="#888" fill-opacity="0.78"/><circle cx="466.2" cy="789.9" r="6.4" fill="#888" fill-opacity="0.78"/><circle cx="477.5" cy="797.9" r="6.4" fill="#888" fill-opacity="0.78"/><circle cx="489.3" cy="734.6" r="6.4" fill="#888" fill-opacity="0.78"/><circle cx="500.1" cy="802.2" r="6.4" fill="#888" fill-opacity="0.78"/><circle cx="511.4" cy="876.5" r="6.4" fill="#888" fill-opacity="0.78"/><circle cx="523.2" cy="879.8" r="6.4" fill="#888" fill-opacity="0.78"/><circle cx="533.5" cy="938.5" r="6.4" fill="#888" fill-opacity="0.78"/><circle cx="545.3" cy="968.4" r="6.4" fill="#888" fill-opacity="0.78"/><circle cx="556.1" cy="1004.1" r="6.4" fill="#888" fill-opacity="0.78"/><circle cx="567.4" cy="1037.7" r="6.4" fill="#888" fill-opacity="0.78"/><circle cx="578.3" cy="1058.4" r="6.4" fill="#888" fill-opacity="0.78"/><circle cx="589.6" cy="1051.4" r="6.4" fill="#888" fill-opacity="0.78"/><circle cx="601.4" cy="1058.4" r="6.4" fill="#888" fill-opacity="0.78"/><circle cx="612.2" cy="1054" r="6.4" fill="#888" fill-opacity="0.78"/><circle cx="623.5" cy="1028.1" r="6.4" fill="#888" fill-opacity="0.78"/><circle cx="646.1" cy="1035.1" r="6.4" fill="#888" fill-opacity="0.78"/></g>
<path d="M161.3 1058.8 L162.3 1058.8 L163.3 1058.7 L164.3 1058.6 L165.2 1058.5 L166.2 1058.4 L167.2 1058.3 L168.2 1058.2 L169.2 1058.1 L170.2 1058 L171.1 1057.9 L172.1 1057.8 L173.1 1057.7 L174.1 1057.6 L175.1 1057.5 L176.1 1057.4 L177 1057.3 L178 1057.2 L179 1057 L180 1056.9 L181 1056.8 L182 1056.7 L182.9 1056.6 L183.9 1056.4 L184.9 1056.3 L185.9 1056.2 L186.9 1056 L187.9 1055.9 L188.8 1055.7 L189.8 1055.6 L190.8 1055.5 L191.8 1055.3 L192.8 1055.2 L193.8 1055 L194.7 1054.8 L195.7 1054.7 L196.7 1054.5 L197.7 1054.3 L198.7 1054.2 L199.7 1054 L200.6 1053.8 L201.6 1053.6 L202.6 1053.4 L203.6 1053.2 L204.6 1053 L205.6 1052.8 L206.5 1052.6 L207.5 1052.4 L208.5 1052.2 L209.5 1051.9 L210.5 1051.7 L211.5 1051.5 L212.4 1051.2 L213.4 1051 L214.4 1050.7 L215.4 1050.5 L216.4 1050.2 L217.4 1049.9 L218.3 1049.6 L219.3 1049.3 L220.3 1049 L221.3 1048.7 L222.3 1048.4 L223.3 1048.1 L224.2 1047.7 L225.2 1047.4 L226.2 1047 L227.2 1046.7 L228.2 1046.3 L229.2 1045.9 L230.1 1045.5 L231.1 1045.1 L232.1 1044.7 L233.1 1044.2 L234.1 1043.8 L235.1 1043.3 L236 1042.8 L237 1042.3 L238 1041.8 L239 1041.3 L240 1040.7 L241 1040.1 L241.9 1039.5 L242.9 1038.9 L243.9 1038.3 L244.9 1037.6 L245.9 1036.9 L246.9 1036.2 L247.8 1035.4 L248.8 1034.7 L249.8 1033.8 L250.8 1033 L251.8 1032.1 L252.8 1031.2 L253.7 1030.3 L254.7 1029.3 L255.7 1028.2 L256.7 1027.1 L257.7 1026 L258.7 1024.8 L259.6 1023.6 L260.6 1022.3 L261.6 1020.9 L262.6 1019.5 L263.6 1017.9 L264.6 1016.4 L265.5 1014.7 L266.5 1012.9 L267.5 1011.1 L268.5 1009.1 L269.5 1007 L270.5 1004.8 L271.4 1002.5 L272.4 1000.1 L273.4 997.5 L274.4 994.7 L275.4 991.8 L276.4 988.7 L277.3 985.4 L278.3 981.8 L279.3 978.1 L280.3 974.1 L281.3 969.8 L282.3 965.2 L283.2 960.4 L284.2 955.2 L285.2 949.6 L286.2 943.7 L287.2 937.3 L288.2 930.6 L289.1 923.4 L290.1 915.7 L291.1 907.6 L292.1 899 L293.1 889.9 L294.1 880.4 L295 870.5 L296 860.2 L297 849.6 L298 838.9 L299 828 L300 817.2 L300.9 806.5 L301.9 796.2 L302.9 786.3 L303.9 777.1 L304.9 768.7 L305.9 761.1 L306.8 754.4 L307.8 748.7 L308.8 744 L309.8 740.3 L310.8 737.5 L311.8 735.5 L312.7 734.4 L313.7 733.9 L314.7 734.1 L315.7 734.7 L316.7 735.9 L317.7 737.4 L318.6 739.2 L319.6 741.2 L320.6 743.5 L321.6 745.9 L322.6 748.5 L323.6 751.1 L324.5 753.8 L325.5 756.5 L326.5 759.2 L327.5 761.9 L328.5 764.6 L329.5 767.3 L330.4 769.9 L331.4 772.5 L332.4 775 L333.4 777.5 L334.4 780 L335.4 782.4 L336.3 784.7 L337.3 786.9 L338.3 789.2 L339.3 791.3 L340.3 793.4 L341.3 795.4 L342.2 797.4 L343.2 799.3 L344.2 801.2 L345.2 803 L346.2 804.8 L347.2 806.5 L348.1 808.1 L349.1 809.7 L350.1 811.3 L351.1 812.8 L352.1 814.3 L353.1 815.7 L354 817.1 L355 818.4 L356 819.7 L357 821 L358 822.2 L359 823.4 L359.9 824.5 L360.9 825.6 L361.9 826.7 L362.9 827.7 L363.9 828.7 L364.9 829.7 L365.8 830.6 L366.8 831.5 L367.8 832.4 L368.8 833.3 L369.8 834.1 L370.8 834.9 L371.7 835.6 L372.7 836.4 L373.7 837.1 L374.7 837.8 L375.7 838.4 L376.7 839 L377.6 839.7 L378.6 840.2 L379.6 840.8 L380.6 841.3 L381.6 841.9 L382.6 842.3 L383.5 842.8 L384.5 843.3 L385.5 843.7 L386.5 844.1 L387.5 844.5 L388.5 844.8 L389.4 845.2 L390.4 845.5 L391.4 845.8 L392.4 846.1 L393.4 846.4 L394.4 846.6 L395.3 846.9 L396.3 847.1 L397.3 847.3 L398.3 847.4 L399.3 847.6 L400.3 847.7 L401.2 847.8 L402.2 847.9 L403.2 848 L404.2 848.1 L405.2 848.1 L406.2 848.1 L407.1 848.2 L408.1 848.1 L409.1 848.1 L410.1 848.1 L411.1 848 L412.1 847.9 L413.1 847.8 L414 847.7 L415 847.6 L416 847.4 L417 847.3 L418 847.1 L419 846.9 L419.9 846.6 L420.9 846.4 L421.9 846.1 L422.9 845.8 L423.9 845.5 L424.9 845.2 L425.8 844.8 L426.8 844.5 L427.8 844.1 L428.8 843.7 L429.8 843.3 L430.8 842.8 L431.7 842.3 L432.7 841.9 L433.7 841.3 L434.7 840.8 L435.7 840.2 L436.7 839.7 L437.6 839 L438.6 838.4 L439.6 837.8 L440.6 837.1 L441.6 836.4 L442.6 835.6 L443.5 834.9 L444.5 834.1 L445.5 833.3 L446.5 832.4 L447.5 831.5 L448.5 830.6 L449.4 829.7 L450.4 828.7 L451.4 827.7 L452.4 826.7 L453.4 825.6 L454.4 824.5 L455.3 823.4 L456.3 822.2 L457.3 821 L458.3 819.7 L459.3 818.4 L460.3 817.1 L461.2 815.7 L462.2 814.3 L463.2 812.8 L464.2 811.3 L465.2 809.7 L466.2 808.1 L467.1 806.5 L468.1 804.8 L469.1 803 L470.1 801.2 L471.1 799.3 L472.1 797.4 L473 795.4 L474 793.4 L475 791.3 L476 789.2 L477 786.9 L478 784.7 L478.9 782.4 L479.9 780 L480.9 777.5 L481.9 775 L482.9 772.5 L483.9 769.9 L484.8 767.3 L485.8 764.6 L486.8 761.9 L487.8 759.2 L488.8 756.5 L489.8 753.8 L490.7 751.1 L491.7 748.5 L492.7 745.9 L493.7 743.5 L494.7 741.2 L495.7 739.2 L496.6 737.4 L497.6 735.9 L498.6 734.7 L499.6 734.1 L500.6 733.9 L501.6 734.4 L502.5 735.5 L503.5 737.5 L504.5 740.3 L505.5 744 L506.5 748.7 L507.5 754.4 L508.4 761.1 L509.4 768.7 L510.4 777.1 L511.4 786.3 L512.4 796.2 L513.4 806.5 L514.3 817.2 L515.3 828 L516.3 838.9 L517.3 849.6 L518.3 860.2 L519.3 870.5 L520.2 880.4 L521.2 889.9 L522.2 899 L523.2 907.6 L524.2 915.7 L525.2 923.4 L526.1 930.6 L527.1 937.3 L528.1 943.7 L529.1 949.6 L530.1 955.2 L531.1 960.4 L532 965.2 L533 969.8 L534 974.1 L535 978.1 L536 981.8 L537 985.4 L537.9 988.7 L538.9 991.8 L539.9 994.7 L540.9 997.5 L541.9 1000.1 L542.9 1002.5 L543.8 1004.8 L544.8 1007 L545.8 1009.1 L546.8 1011.1 L547.8 1012.9 L548.8 1014.7 L549.7 1016.4 L550.7 1017.9 L551.7 1019.5 L552.7 1020.9 L553.7 1022.3 L554.7 1023.6 L555.6 1024.8 L556.6 1026 L557.6 1027.1 L558.6 1028.2 L559.6 1029.3 L560.6 1030.3 L561.5 1031.2 L562.5 1032.1 L563.5 1033 L564.5 1033.8 L565.5 1034.7 L566.5 1035.4 L567.4 1036.2 L568.4 1036.9 L569.4 1037.6 L570.4 1038.3 L571.4 1038.9 L572.4 1039.5 L573.3 1040.1 L574.3 1040.7 L575.3 1041.3 L576.3 1041.8 L577.3 1042.3 L578.3 1042.8 L579.2 1043.3 L580.2 1043.8 L581.2 1044.2 L582.2 1044.7 L583.2 1045.1 L584.2 1045.5 L585.1 1045.9 L586.1 1046.3 L587.1 1046.7 L588.1 1047 L589.1 1047.4 L590.1 1047.7 L591 1048.1 L592 1048.4 L593 1048.7 L594 1049 L595 1049.3 L596 1049.6 L596.9 1049.9 L597.9 1050.2 L598.9 1050.5 L599.9 1050.7 L600.9 1051 L601.9 1051.2 L602.8 1051.5 L603.8 1051.7 L604.8 1051.9 L605.8 1052.2 L606.8 1052.4 L607.8 1052.6 L608.7 1052.8 L609.7 1053 L610.7 1053.2 L611.7 1053.4 L612.7 1053.6 L613.7 1053.8 L614.6 1054 L615.6 1054.2 L616.6 1054.3 L617.6 1054.5 L618.6 1054.7 L619.6 1054.8 L620.5 1055 L621.5 1055.2 L622.5 1055.3 L623.5 1055.5 L624.5 1055.6 L625.5 1055.7 L626.4 1055.9 L627.4 1056 L628.4 1056.2 L629.4 1056.3 L630.4 1056.4 L631.4 1056.6 L632.3 1056.7 L633.3 1056.8 L634.3 1056.9 L635.3 1057 L636.3 1057.2 L637.3 1057.3 L638.2 1057.4 L639.2 1057.5 L640.2 1057.6 L641.2 1057.7 L642.2 1057.8 L643.2 1057.9 L644.1 1058 L645.1 1058.1 L646.1 1058.2 L647.1 1058.3 L648.1 1058.4 L649.1 1058.5 L650 1058.6 L651 1058.7 L652 1058.8 L653 1058.8" fill="none" stroke="#0a0ad0" stroke-width="2.6" stroke-linejoin="round"/>
<path d="M161.3 1067 L162.3 1067 L163.3 1067 L164.3 1067 L165.2 1067 L166.2 1067 L167.2 1067 L168.2 1067 L169.2 1067 L170.2 1067 L171.1 1067 L172.1 1067 L173.1 1067 L174.1 1067 L175.1 1067 L176.1 1067 L177 1067 L178 1067 L179 1067 L180 1067 L181 1067 L182 1067 L182.9 1067 L183.9 1067 L184.9 1067 L185.9 1067 L186.9 1067 L187.9 1067 L188.8 1067 L189.8 1067 L190.8 1067 L191.8 1067 L192.8 1067 L193.8 1067 L194.7 1067 L195.7 1067 L196.7 1067 L197.7 1067 L198.7 1067 L199.7 1067 L200.6 1067 L201.6 1067 L202.6 1067 L203.6 1067 L204.6 1067 L205.6 1067 L206.5 1067 L207.5 1067 L208.5 1067 L209.5 1067 L210.5 1067 L211.5 1067 L212.4 1067 L213.4 1067 L214.4 1067 L215.4 1067 L216.4 1067 L217.4 1067 L218.3 1067 L219.3 1067 L220.3 1067 L221.3 1067 L222.3 1067 L223.3 1067 L224.2 1067 L225.2 1067 L226.2 1067 L227.2 1067 L228.2 1067 L229.2 1067 L230.1 1067 L231.1 1067 L232.1 1067 L233.1 1067 L234.1 1067 L235.1 1067 L236 1067 L237 1067 L238 1067 L239 1067 L240 1067 L241 1067 L241.9 1067 L242.9 1067 L243.9 1067 L244.9 1067 L245.9 1067 L246.9 1067 L247.8 1067 L248.8 1066.9 L249.8 1066.9 L250.8 1066.9 L251.8 1066.9 L252.8 1066.8 L253.7 1066.8 L254.7 1066.7 L255.7 1066.6 L256.7 1066.5 L257.7 1066.4 L258.7 1066.3 L259.6 1066.1 L260.6 1065.8 L261.6 1065.5 L262.6 1065.2 L263.6 1064.8 L264.6 1064.3 L265.5 1063.6 L266.5 1062.9 L267.5 1062 L268.5 1061 L269.5 1059.8 L270.5 1058.4 L271.4 1056.8 L272.4 1054.9 L273.4 1052.7 L274.4 1050.2 L275.4 1047.4 L276.4 1044.2 L277.3 1040.6 L278.3 1036.6 L279.3 1032 L280.3 1027.1 L281.3 1021.5 L282.3 1015.5 L283.2 1008.9 L284.2 1001.8 L285.2 994.1 L286.2 985.8 L287.2 977 L288.2 967.7 L289.1 957.8 L290.1 947.5 L291.1 936.8 L292.1 925.7 L293.1 914.2 L294.1 902.5 L295 890.6 L296 878.7 L297 866.7 L298 854.7 L299 843 L300 831.4 L300.9 820.2 L301.9 809.4 L302.9 799.1 L303.9 789.4 L304.9 780.4 L305.9 772 L306.8 764.4 L307.8 757.6 L308.8 751.6 L309.8 746.5 L310.8 742.3 L311.8 739 L312.7 736.5 L313.7 734.8 L314.7 734 L315.7 733.9 L316.7 734.6 L317.7 735.9 L318.6 737.9 L319.6 740.5 L320.6 743.6 L321.6 747.1 L322.6 751 L323.6 755.2 L324.5 759.7 L325.5 764.4 L326.5 769.2 L327.5 774.1 L328.5 779.1 L329.5 784.1 L330.4 789.1 L331.4 794 L332.4 798.8 L333.4 803.5 L334.4 808 L335.4 812.5 L336.3 816.7 L337.3 820.8 L338.3 824.8 L339.3 828.5 L340.3 832.1 L341.3 835.5 L342.2 838.8 L343.2 841.8 L344.2 844.8 L345.2 847.5 L346.2 850.2 L347.2 852.6 L348.1 855 L349.1 857.2 L350.1 859.4 L351.1 861.4 L352.1 863.3 L353.1 865.1 L354 866.8 L355 868.5 L356 870 L357 871.5 L358 872.9 L359 874.3 L359.9 875.6 L360.9 876.8 L361.9 878 L362.9 879.1 L363.9 880.2 L364.9 881.2 L365.8 882.2 L366.8 883.2 L367.8 884.1 L368.8 884.9 L369.8 885.8 L370.8 886.6 L371.7 887.3 L372.7 888.1 L373.7 888.8 L374.7 889.5 L375.7 890.1 L376.7 890.7 L377.6 891.3 L378.6 891.9 L379.6 892.4 L380.6 892.9 L381.6 893.4 L382.6 893.9 L383.5 894.3 L384.5 894.8 L385.5 895.2 L386.5 895.6 L387.5 895.9 L388.5 896.3 L389.4 896.6 L390.4 896.9 L391.4 897.2 L392.4 897.4 L393.4 897.7 L394.4 897.9 L395.3 898.1 L396.3 898.3 L397.3 898.5 L398.3 898.7 L399.3 898.8 L400.3 898.9 L401.2 899 L402.2 899.1 L403.2 899.2 L404.2 899.3 L405.2 899.3 L406.2 899.3 L407.1 899.3 L408.1 899.3 L409.1 899.3 L410.1 899.3 L411.1 899.2 L412.1 899.1 L413.1 899 L414 898.9 L415 898.8 L416 898.7 L417 898.5 L418 898.3 L419 898.1 L419.9 897.9 L420.9 897.7 L421.9 897.4 L422.9 897.2 L423.9 896.9 L424.9 896.6 L425.8 896.3 L426.8 895.9 L427.8 895.6 L428.8 895.2 L429.8 894.8 L430.8 894.3 L431.7 893.9 L432.7 893.4 L433.7 892.9 L434.7 892.4 L435.7 891.9 L436.7 891.3 L437.6 890.7 L438.6 890.1 L439.6 889.5 L440.6 888.8 L441.6 888.1 L442.6 887.3 L443.5 886.6 L444.5 885.8 L445.5 884.9 L446.5 884.1 L447.5 883.2 L448.5 882.2 L449.4 881.2 L450.4 880.2 L451.4 879.1 L452.4 878 L453.4 876.8 L454.4 875.6 L455.3 874.3 L456.3 872.9 L457.3 871.5 L458.3 870 L459.3 868.5 L460.3 866.8 L461.2 865.1 L462.2 863.3 L463.2 861.4 L464.2 859.4 L465.2 857.2 L466.2 855 L467.1 852.6 L468.1 850.2 L469.1 847.5 L470.1 844.8 L471.1 841.8 L472.1 838.8 L473 835.5 L474 832.1 L475 828.5 L476 824.8 L477 820.8 L478 816.7 L478.9 812.5 L479.9 808 L480.9 803.5 L481.9 798.8 L482.9 794 L483.9 789.1 L484.8 784.1 L485.8 779.1 L486.8 774.1 L487.8 769.2 L488.8 764.4 L489.8 759.7 L490.7 755.2 L491.7 751 L492.7 747.1 L493.7 743.6 L494.7 740.5 L495.7 737.9 L496.6 735.9 L497.6 734.6 L498.6 733.9 L499.6 734 L500.6 734.8 L501.6 736.5 L502.5 739 L503.5 742.3 L504.5 746.5 L505.5 751.6 L506.5 757.6 L507.5 764.4 L508.4 772 L509.4 780.4 L510.4 789.4 L511.4 799.1 L512.4 809.4 L513.4 820.2 L514.3 831.4 L515.3 843 L516.3 854.7 L517.3 866.7 L518.3 878.7 L519.3 890.6 L520.2 902.5 L521.2 914.2 L522.2 925.7 L523.2 936.8 L524.2 947.5 L525.2 957.8 L526.1 967.7 L527.1 977 L528.1 985.8 L529.1 994.1 L530.1 1001.8 L531.1 1008.9 L532 1015.5 L533 1021.5 L534 1027.1 L535 1032 L536 1036.6 L537 1040.6 L537.9 1044.2 L538.9 1047.4 L539.9 1050.2 L540.9 1052.7 L541.9 1054.9 L542.9 1056.8 L543.8 1058.4 L544.8 1059.8 L545.8 1061 L546.8 1062 L547.8 1062.9 L548.8 1063.6 L549.7 1064.3 L550.7 1064.8 L551.7 1065.2 L552.7 1065.5 L553.7 1065.8 L554.7 1066.1 L555.6 1066.3 L556.6 1066.4 L557.6 1066.5 L558.6 1066.6 L559.6 1066.7 L560.6 1066.8 L561.5 1066.8 L562.5 1066.9 L563.5 1066.9 L564.5 1066.9 L565.5 1066.9 L566.5 1067 L567.4 1067 L568.4 1067 L569.4 1067 L570.4 1067 L571.4 1067 L572.4 1067 L573.3 1067 L574.3 1067 L575.3 1067 L576.3 1067 L577.3 1067 L578.3 1067 L579.2 1067 L580.2 1067 L581.2 1067 L582.2 1067 L583.2 1067 L584.2 1067 L585.1 1067 L586.1 1067 L587.1 1067 L588.1 1067 L589.1 1067 L590.1 1067 L591 1067 L592 1067 L593 1067 L594 1067 L595 1067 L596 1067 L596.9 1067 L597.9 1067 L598.9 1067 L599.9 1067 L600.9 1067 L601.9 1067 L602.8 1067 L603.8 1067 L604.8 1067 L605.8 1067 L606.8 1067 L607.8 1067 L608.7 1067 L609.7 1067 L610.7 1067 L611.7 1067 L612.7 1067 L613.7 1067 L614.6 1067 L615.6 1067 L616.6 1067 L617.6 1067 L618.6 1067 L619.6 1067 L620.5 1067 L621.5 1067 L622.5 1067 L623.5 1067 L624.5 1067 L625.5 1067 L626.4 1067 L627.4 1067 L628.4 1067 L629.4 1067 L630.4 1067 L631.4 1067 L632.3 1067 L633.3 1067 L634.3 1067 L635.3 1067 L636.3 1067 L637.3 1067 L638.2 1067 L639.2 1067 L640.2 1067 L641.2 1067 L642.2 1067 L643.2 1067 L644.1 1067 L645.1 1067 L646.1 1067 L647.1 1067 L648.1 1067 L649.1 1067 L650 1067 L651 1067 L652 1067 L653 1067" fill="none" stroke="#dd1414" stroke-width="2.6" stroke-linejoin="round"/>
<rect x="161.3" y="700.6" width="491.7" height="366.4" fill="none" stroke="#333" stroke-width="1.4"/>
<path stroke="#333" stroke-width="1.3" fill="none" d="M161.3 1067L168.1 1067M653 1067L646.2 1067M161.3 1033.7L164.8 1033.7M653 1033.7L649.5 1033.7M161.3 1000.4L168.1 1000.4M653 1000.4L646.2 1000.4M161.3 967.1L164.8 967.1M653 967.1L649.5 967.1M161.3 933.8L168.1 933.8M653 933.8L646.2 933.8M161.3 900.5L164.8 900.5M653 900.5L649.5 900.5M161.3 867.1L168.1 867.1M653 867.1L646.2 867.1M161.3 833.8L164.8 833.8M653 833.8L649.5 833.8M161.3 800.5L168.1 800.5M653 800.5L646.2 800.5M161.3 767.2L164.8 767.2M653 767.2L649.5 767.2M161.3 733.9L168.1 733.9M653 733.9L646.2 733.9M161.3 700.6L164.8 700.6M653 700.6L649.5 700.6M161.3 1067L161.3 1063.5M161.3 700.6L161.3 704.1M210.5 1067L210.5 1060M210.5 700.6L210.5 707.6M259.6 1067L259.6 1063.5M259.6 700.6L259.6 704.1M308.8 1067L308.8 1060M308.8 700.6L308.8 707.6M358 1067L358 1063.5M358 700.6L358 704.1M407.1 1067L407.1 1060M407.1 700.6L407.1 707.6M456.3 1067L456.3 1063.5M456.3 700.6L456.3 704.1M505.5 1067L505.5 1060M505.5 700.6L505.5 707.6M554.7 1067L554.7 1063.5M554.7 700.6L554.7 704.1M603.8 1067L603.8 1060M603.8 700.6L603.8 707.6M653 1067L653 1063.5M653 700.6L653 704.1"/>
<text x="153.3" y="1076.2" font-size="30" text-anchor="end" font-weight="normal" font-style="normal" fill="#000">0.0</text>
<text x="153.3" y="1009.6" font-size="30" text-anchor="end" font-weight="normal" font-style="normal" fill="#000">0.2</text>
<text x="153.3" y="943" font-size="30" text-anchor="end" font-weight="normal" font-style="normal" fill="#000">0.4</text>
<text x="153.3" y="876.3" font-size="30" text-anchor="end" font-weight="normal" font-style="normal" fill="#000">0.6</text>
<text x="153.3" y="809.7" font-size="30" text-anchor="end" font-weight="normal" font-style="normal" fill="#000">0.8</text>
<text x="153.3" y="743.1" font-size="30" text-anchor="end" font-weight="normal" font-style="normal" fill="#000">1.0</text>
<text x="209.5" y="1097.8" font-size="29" text-anchor="middle" font-weight="normal" font-style="normal" fill="#000">-40</text>
<text x="307.8" y="1097.8" font-size="29" text-anchor="middle" font-weight="normal" font-style="normal" fill="#000">-20</text>
<text x="407.1" y="1097.8" font-size="29" text-anchor="middle" font-weight="normal" font-style="normal" fill="#000">0</text>
<text x="505.5" y="1097.8" font-size="29" text-anchor="middle" font-weight="normal" font-style="normal" fill="#000">20</text>
<text x="603.8" y="1097.8" font-size="29" text-anchor="middle" font-weight="normal" font-style="normal" fill="#000">40</text>
<text x="86" y="895.2" font-size="39.9" text-anchor="middle" font-weight="normal" font-style="normal" fill="#000" transform="rotate(-90 86 895.2)">Photons</text>
<text x="407.7" y="1147.5" font-size="38.5" text-anchor="middle" font-weight="normal" font-style="normal" fill="#000">ρ<tspan font-size="25" dy="13">z</tspan><tspan dy="-13"> (μm)</tspan></text>
<rect x="296" y="990" width="225" height="62" fill="#fff"/>
<line x1="300.2" y1="1003.2" x2="367.7" y2="1003.2" stroke="#0a0ad0" stroke-width="2.6"/>
<line x1="300.2" y1="1040.3" x2="367.7" y2="1040.3" stroke="#dd1414" stroke-width="2.6"/>
<text x="374.8" y="1014" font-size="29.8" text-anchor="start" font-weight="normal" font-style="normal" fill="#000">Lorentzian</text>
<text x="374.8" y="1049.8" font-size="29.8" text-anchor="start" font-weight="normal" font-style="normal" fill="#000">Gaussian</text>
</svg></body></html>
